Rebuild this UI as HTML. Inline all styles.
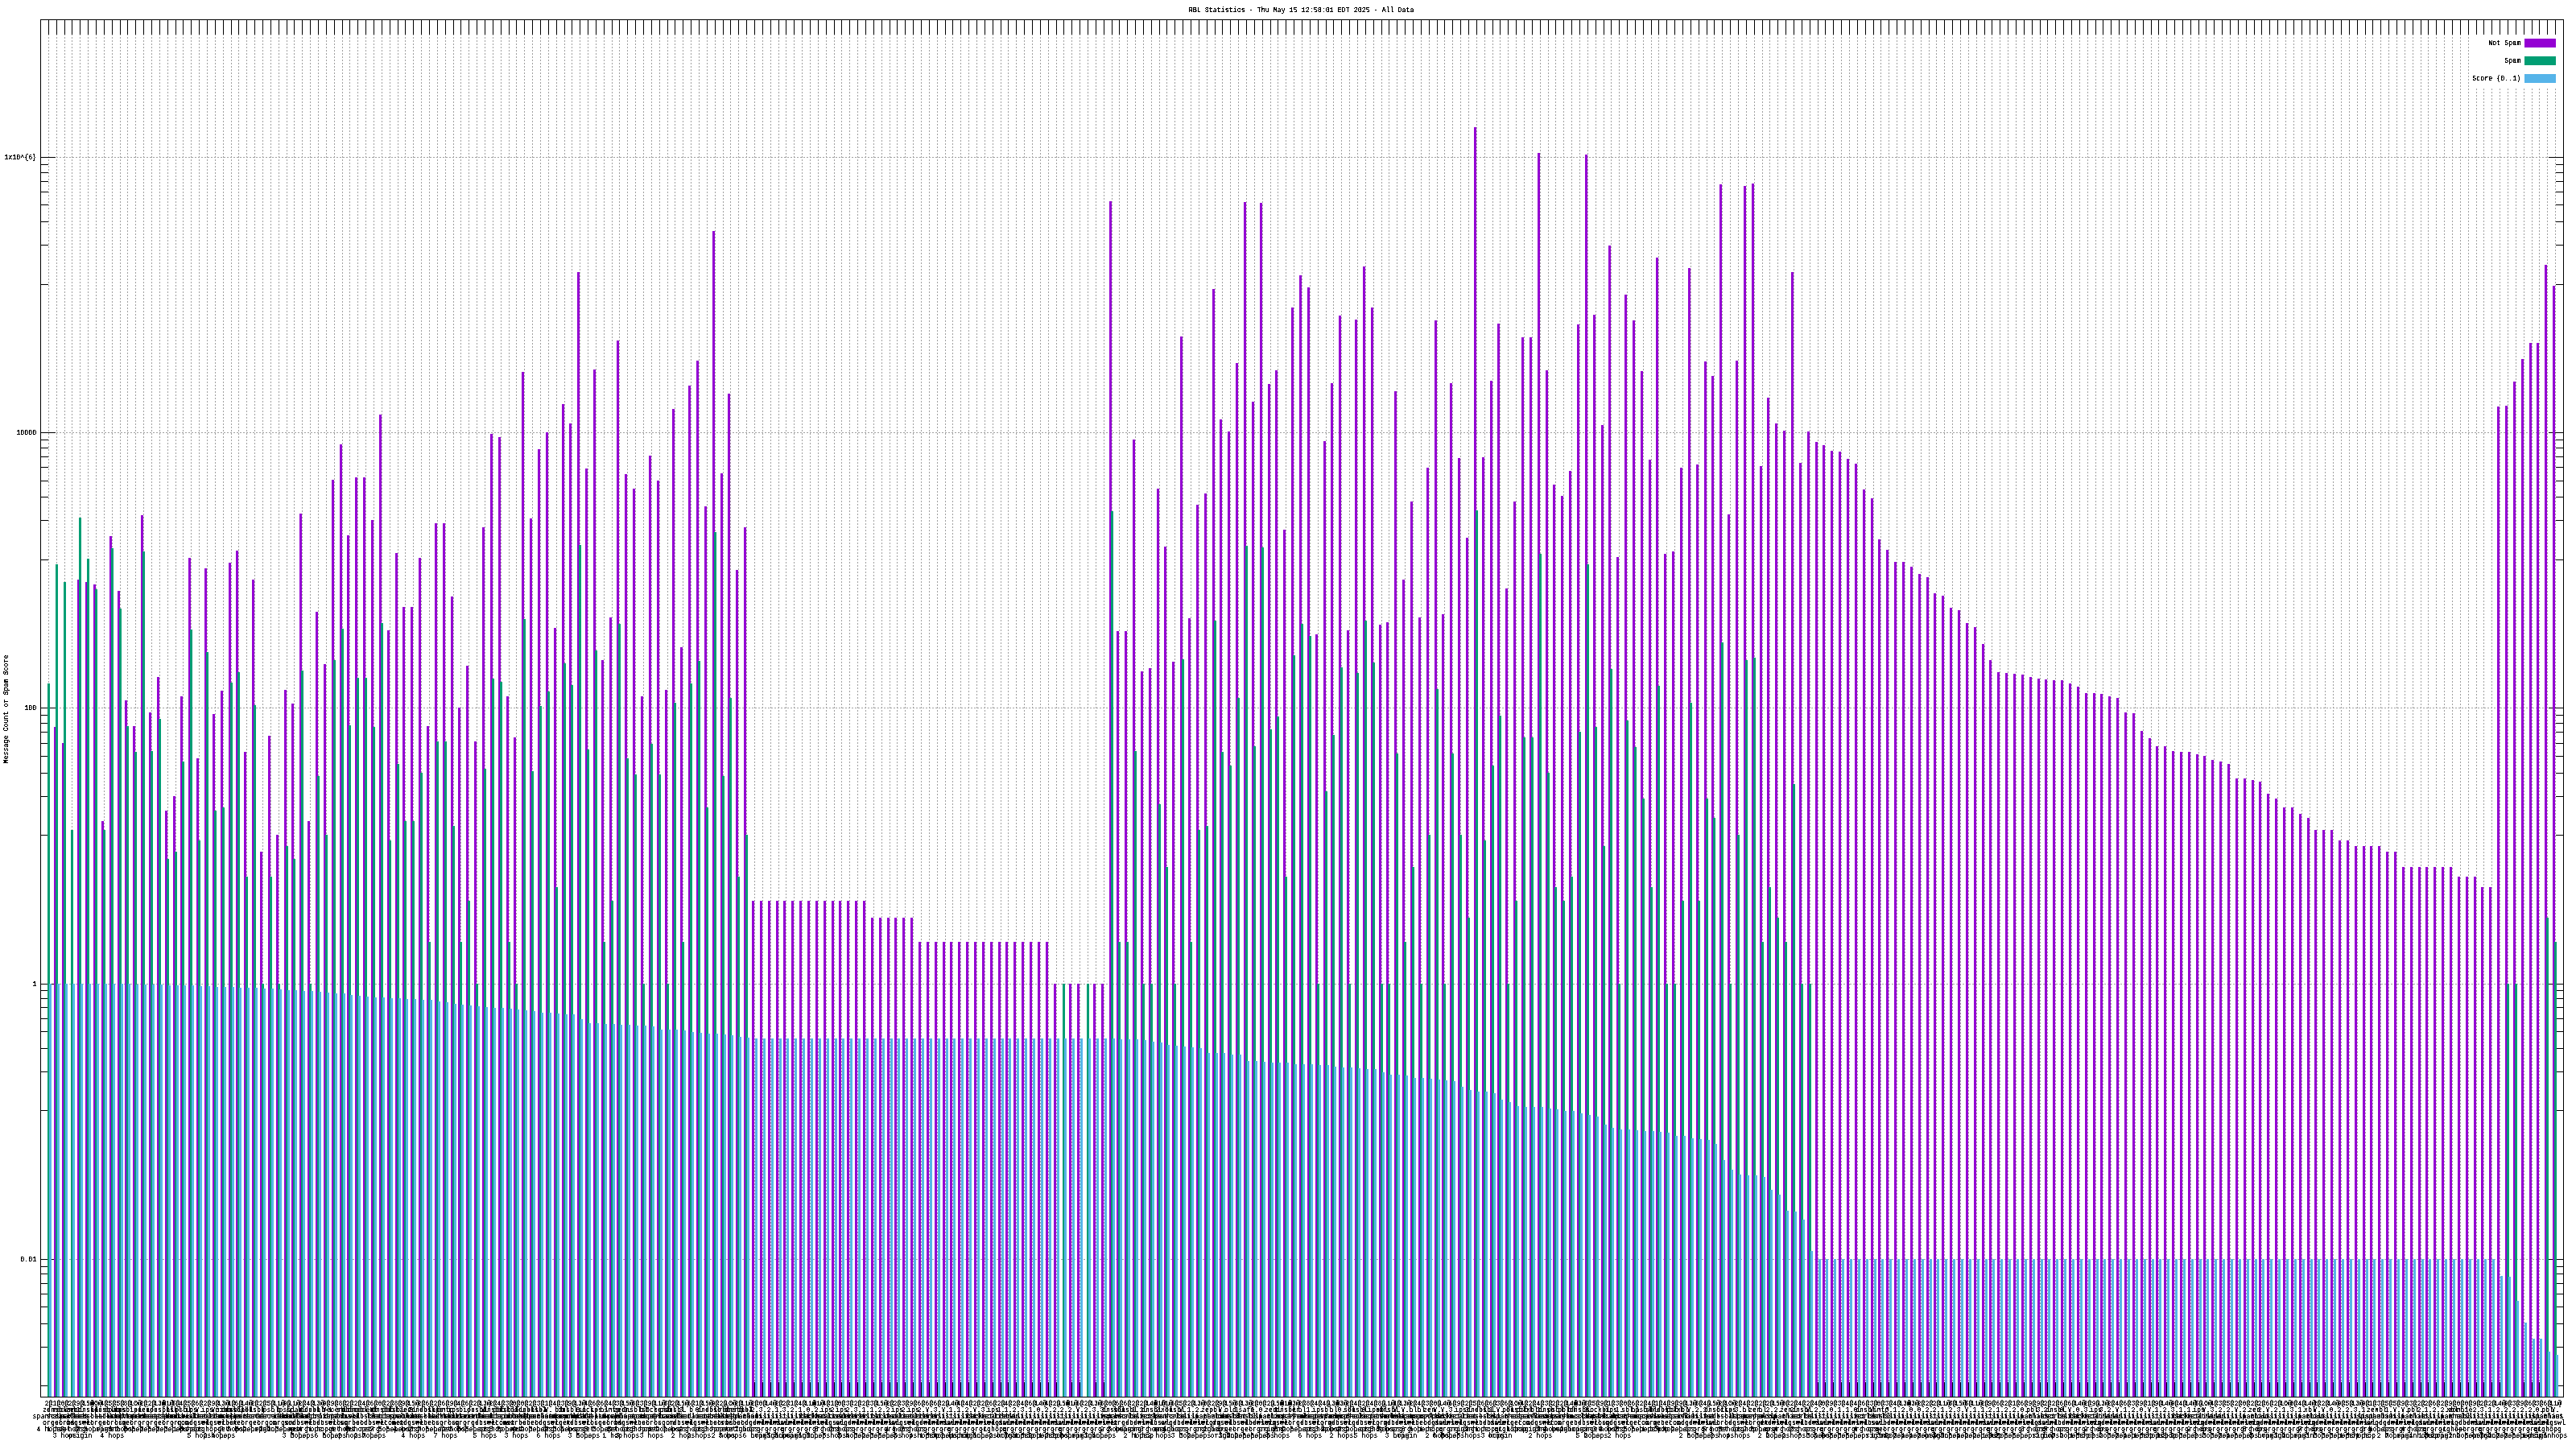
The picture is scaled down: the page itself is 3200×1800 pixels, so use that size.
<!DOCTYPE html><html><head><meta charset="utf-8"><title>RBL Statistics</title><style>html,body{margin:0;padding:0;background:#fff}svg{display:block}text{font-family:"Liberation Mono",monospace;font-size:8.332px;fill:#000}</style></head><body>
<svg width="3200" height="1800" viewBox="0 0 3200 1800" shape-rendering="crispEdges">
<rect x="0" y="0" width="3200" height="1800" fill="#fff"/>
<path d="M60.5 26V1735M70.5 26V1735M80.5 26V1735M89.5 26V1735M99.5 26V1735M109.5 26V1735M119.5 26V1735M129.5 26V1735M139.5 26V1735M149.5 26V1735M158.5 26V1735M168.5 26V1735M178.5 26V1735M188.5 26V1735M198.5 26V1735M208.5 26V1735M218.5 26V1735M227.5 26V1735M237.5 26V1735M247.5 26V1735M257.5 26V1735M267.5 26V1735M277.5 26V1735M287.5 26V1735M296.5 26V1735M306.5 26V1735M316.5 26V1735M326.5 26V1735M336.5 26V1735M346.5 26V1735M356.5 26V1735M365.5 26V1735M375.5 26V1735M385.5 26V1735M395.5 26V1735M405.5 26V1735M415.5 26V1735M425.5 26V1735M434.5 26V1735M444.5 26V1735M454.5 26V1735M464.5 26V1735M474.5 26V1735M484.5 26V1735M494.5 26V1735M503.5 26V1735M513.5 26V1735M523.5 26V1735M533.5 26V1735M543.5 26V1735M553.5 26V1735M563.5 26V1735M572.5 26V1735M582.5 26V1735M592.5 26V1735M602.5 26V1735M612.5 26V1735M622.5 26V1735M632.5 26V1735M641.5 26V1735M651.5 26V1735M661.5 26V1735M671.5 26V1735M681.5 26V1735M691.5 26V1735M701.5 26V1735M710.5 26V1735M720.5 26V1735M730.5 26V1735M740.5 26V1735M750.5 26V1735M760.5 26V1735M769.5 26V1735M779.5 26V1735M789.5 26V1735M799.5 26V1735M809.5 26V1735M819.5 26V1735M829.5 26V1735M838.5 26V1735M848.5 26V1735M858.5 26V1735M868.5 26V1735M878.5 26V1735M888.5 26V1735M898.5 26V1735M907.5 26V1735M917.5 26V1735M927.5 26V1735M937.5 26V1735M947.5 26V1735M957.5 26V1735M967.5 26V1735M976.5 26V1735M986.5 26V1735M996.5 26V1735M1006.5 26V1735M1016.5 26V1735M1026.5 26V1735M1036.5 26V1735M1045.5 26V1735M1055.5 26V1735M1065.5 26V1735M1075.5 26V1735M1085.5 26V1735M1095.5 26V1735M1105.5 26V1735M1114.5 26V1735M1124.5 26V1735M1134.5 26V1735M1144.5 26V1735M1154.5 26V1735M1164.5 26V1735M1174.5 26V1735M1183.5 26V1735M1193.5 26V1735M1203.5 26V1735M1213.5 26V1735M1223.5 26V1735M1233.5 26V1735M1243.5 26V1735M1252.5 26V1735M1262.5 26V1735M1272.5 26V1735M1282.5 26V1735M1292.5 26V1735M1302.5 26V1735M1312.5 26V1735M1321.5 26V1735M1331.5 26V1735M1341.5 26V1735M1351.5 26V1735M1361.5 26V1735M1371.5 26V1735M1381.5 26V1735M1390.5 26V1735M1400.5 26V1735M1410.5 26V1735M1420.5 26V1735M1430.5 26V1735M1440.5 26V1735M1449.5 26V1735M1459.5 26V1735M1469.5 26V1735M1479.5 26V1735M1489.5 26V1735M1499.5 26V1735M1509.5 26V1735M1518.5 26V1735M1528.5 26V1735M1538.5 26V1735M1548.5 26V1735M1558.5 26V1735M1568.5 26V1735M1578.5 26V1735M1587.5 26V1735M1597.5 26V1735M1607.5 26V1735M1617.5 26V1735M1627.5 26V1735M1637.5 26V1735M1647.5 26V1735M1656.5 26V1735M1666.5 26V1735M1676.5 26V1735M1686.5 26V1735M1696.5 26V1735M1706.5 26V1735M1716.5 26V1735M1725.5 26V1735M1735.5 26V1735M1745.5 26V1735M1755.5 26V1735M1765.5 26V1735M1775.5 26V1735M1785.5 26V1735M1794.5 26V1735M1804.5 26V1735M1814.5 26V1735M1824.5 26V1735M1834.5 26V1735M1844.5 26V1735M1854.5 26V1735M1863.5 26V1735M1873.5 26V1735M1883.5 26V1735M1893.5 26V1735M1903.5 26V1735M1913.5 26V1735M1923.5 26V1735M1932.5 26V1735M1942.5 26V1735M1952.5 26V1735M1962.5 26V1735M1972.5 26V1735M1982.5 26V1735M1992.5 26V1735M2001.5 26V1735M2011.5 26V1735M2021.5 26V1735M2031.5 26V1735M2041.5 26V1735M2051.5 26V1735M2060.5 26V1735M2070.5 26V1735M2080.5 26V1735M2090.5 26V1735M2100.5 26V1735M2110.5 26V1735M2120.5 26V1735M2129.5 26V1735M2139.5 26V1735M2149.5 26V1735M2159.5 26V1735M2169.5 26V1735M2179.5 26V1735M2189.5 26V1735M2198.5 26V1735M2208.5 26V1735M2218.5 26V1735M2228.5 26V1735M2238.5 26V1735M2248.5 26V1735M2258.5 26V1735M2267.5 26V1735M2277.5 26V1735M2287.5 26V1735M2297.5 26V1735M2307.5 26V1735M2317.5 26V1735M2327.5 26V1735M2336.5 26V1735M2346.5 26V1735M2356.5 26V1735M2366.5 26V1735M2376.5 26V1735M2386.5 26V1735M2396.5 26V1735M2405.5 26V1735M2415.5 26V1735M2425.5 26V1735M2435.5 26V1735M2445.5 26V1735M2455.5 26V1735M2465.5 26V1735M2474.5 26V1735M2484.5 26V1735M2494.5 26V1735M2504.5 26V1735M2514.5 26V1735M2524.5 26V1735M2534.5 26V1735M2543.5 26V1735M2553.5 26V1735M2563.5 26V1735M2573.5 26V1735M2583.5 26V1735M2593.5 26V1735M2603.5 26V1735M2612.5 26V1735M2622.5 26V1735M2632.5 26V1735M2642.5 26V1735M2652.5 26V1735M2662.5 26V1735M2672.5 26V1735M2681.5 26V1735M2691.5 26V1735M2701.5 26V1735M2711.5 26V1735M2721.5 26V1735M2731.5 26V1735M2740.5 26V1735M2750.5 26V1735M2760.5 26V1735M2770.5 26V1735M2780.5 26V1735M2790.5 26V1735M2800.5 26V1735M2809.5 26V1735M2819.5 26V1735M2829.5 26V1735M2839.5 26V1735M2849.5 26V1735M2859.5 26V1735M2869.5 26V1735M2878.5 26V1735M2888.5 26V1735M2898.5 26V1735M2908.5 26V1735M2918.5 26V1735M2928.5 26V1735M2938.5 26V1735M2947.5 26V1735M2957.5 26V1735M2967.5 26V1735M2977.5 26V1735M2987.5 26V1735M2997.5 26V1735M3007.5 26V1735M3016.5 26V1735M3026.5 26V1735M3036.5 26V1735M3046.5 26V1735M3056.5 26V1735M3066.5 26V1735M3076.5 26V1735M3085.5 26V1735M3095.5 26V1735M3105.5 26V1735M3115.5 26V1735M3125.5 26V1735M3135.5 26V1735M3145.5 26V1735M3154.5 26V1735M3164.5 26V1735M3174.5 26V1735" stroke="#a0a0a0" stroke-width="1" stroke-dasharray="2 2" fill="none"/>
<path d="M50 1564.5H3184M50 1222.5H3184M50 879.5H3184M50 537.5H3184M50 195.5H3184" stroke="#a0a0a0" stroke-width="1" stroke-dasharray="2 2" fill="none"/>
<rect x="3068" y="43" width="112" height="66" fill="#fff"/>
<path d="M60.5 24v19M60.5 1735v-18M70.5 24v19M70.5 1735v-18M80.5 24v19M80.5 1735v-18M89.5 24v19M89.5 1735v-18M99.5 24v19M99.5 1735v-18M109.5 24v19M109.5 1735v-18M119.5 24v19M119.5 1735v-18M129.5 24v19M129.5 1735v-18M139.5 24v19M139.5 1735v-18M149.5 24v19M149.5 1735v-18M158.5 24v19M158.5 1735v-18M168.5 24v19M168.5 1735v-18M178.5 24v19M178.5 1735v-18M188.5 24v19M188.5 1735v-18M198.5 24v19M198.5 1735v-18M208.5 24v19M208.5 1735v-18M218.5 24v19M218.5 1735v-18M227.5 24v19M227.5 1735v-18M237.5 24v19M237.5 1735v-18M247.5 24v19M247.5 1735v-18M257.5 24v19M257.5 1735v-18M267.5 24v19M267.5 1735v-18M277.5 24v19M277.5 1735v-18M287.5 24v19M287.5 1735v-18M296.5 24v19M296.5 1735v-18M306.5 24v19M306.5 1735v-18M316.5 24v19M316.5 1735v-18M326.5 24v19M326.5 1735v-18M336.5 24v19M336.5 1735v-18M346.5 24v19M346.5 1735v-18M356.5 24v19M356.5 1735v-18M365.5 24v19M365.5 1735v-18M375.5 24v19M375.5 1735v-18M385.5 24v19M385.5 1735v-18M395.5 24v19M395.5 1735v-18M405.5 24v19M405.5 1735v-18M415.5 24v19M415.5 1735v-18M425.5 24v19M425.5 1735v-18M434.5 24v19M434.5 1735v-18M444.5 24v19M444.5 1735v-18M454.5 24v19M454.5 1735v-18M464.5 24v19M464.5 1735v-18M474.5 24v19M474.5 1735v-18M484.5 24v19M484.5 1735v-18M494.5 24v19M494.5 1735v-18M503.5 24v19M503.5 1735v-18M513.5 24v19M513.5 1735v-18M523.5 24v19M523.5 1735v-18M533.5 24v19M533.5 1735v-18M543.5 24v19M543.5 1735v-18M553.5 24v19M553.5 1735v-18M563.5 24v19M563.5 1735v-18M572.5 24v19M572.5 1735v-18M582.5 24v19M582.5 1735v-18M592.5 24v19M592.5 1735v-18M602.5 24v19M602.5 1735v-18M612.5 24v19M612.5 1735v-18M622.5 24v19M622.5 1735v-18M632.5 24v19M632.5 1735v-18M641.5 24v19M641.5 1735v-18M651.5 24v19M651.5 1735v-18M661.5 24v19M661.5 1735v-18M671.5 24v19M671.5 1735v-18M681.5 24v19M681.5 1735v-18M691.5 24v19M691.5 1735v-18M701.5 24v19M701.5 1735v-18M710.5 24v19M710.5 1735v-18M720.5 24v19M720.5 1735v-18M730.5 24v19M730.5 1735v-18M740.5 24v19M740.5 1735v-18M750.5 24v19M750.5 1735v-18M760.5 24v19M760.5 1735v-18M769.5 24v19M769.5 1735v-18M779.5 24v19M779.5 1735v-18M789.5 24v19M789.5 1735v-18M799.5 24v19M799.5 1735v-18M809.5 24v19M809.5 1735v-18M819.5 24v19M819.5 1735v-18M829.5 24v19M829.5 1735v-18M838.5 24v19M838.5 1735v-18M848.5 24v19M848.5 1735v-18M858.5 24v19M858.5 1735v-18M868.5 24v19M868.5 1735v-18M878.5 24v19M878.5 1735v-18M888.5 24v19M888.5 1735v-18M898.5 24v19M898.5 1735v-18M907.5 24v19M907.5 1735v-18M917.5 24v19M917.5 1735v-18M927.5 24v19M927.5 1735v-18M937.5 24v19M937.5 1735v-18M947.5 24v19M947.5 1735v-18M957.5 24v19M957.5 1735v-18M967.5 24v19M967.5 1735v-18M976.5 24v19M976.5 1735v-18M986.5 24v19M986.5 1735v-18M996.5 24v19M996.5 1735v-18M1006.5 24v19M1006.5 1735v-18M1016.5 24v19M1016.5 1735v-18M1026.5 24v19M1026.5 1735v-18M1036.5 24v19M1036.5 1735v-18M1045.5 24v19M1045.5 1735v-18M1055.5 24v19M1055.5 1735v-18M1065.5 24v19M1065.5 1735v-18M1075.5 24v19M1075.5 1735v-18M1085.5 24v19M1085.5 1735v-18M1095.5 24v19M1095.5 1735v-18M1105.5 24v19M1105.5 1735v-18M1114.5 24v19M1114.5 1735v-18M1124.5 24v19M1124.5 1735v-18M1134.5 24v19M1134.5 1735v-18M1144.5 24v19M1144.5 1735v-18M1154.5 24v19M1154.5 1735v-18M1164.5 24v19M1164.5 1735v-18M1174.5 24v19M1174.5 1735v-18M1183.5 24v19M1183.5 1735v-18M1193.5 24v19M1193.5 1735v-18M1203.5 24v19M1203.5 1735v-18M1213.5 24v19M1213.5 1735v-18M1223.5 24v19M1223.5 1735v-18M1233.5 24v19M1233.5 1735v-18M1243.5 24v19M1243.5 1735v-18M1252.5 24v19M1252.5 1735v-18M1262.5 24v19M1262.5 1735v-18M1272.5 24v19M1272.5 1735v-18M1282.5 24v19M1282.5 1735v-18M1292.5 24v19M1292.5 1735v-18M1302.5 24v19M1302.5 1735v-18M1312.5 24v19M1312.5 1735v-18M1321.5 24v19M1321.5 1735v-18M1331.5 24v19M1331.5 1735v-18M1341.5 24v19M1341.5 1735v-18M1351.5 24v19M1351.5 1735v-18M1361.5 24v19M1361.5 1735v-18M1371.5 24v19M1371.5 1735v-18M1381.5 24v19M1381.5 1735v-18M1390.5 24v19M1390.5 1735v-18M1400.5 24v19M1400.5 1735v-18M1410.5 24v19M1410.5 1735v-18M1420.5 24v19M1420.5 1735v-18M1430.5 24v19M1430.5 1735v-18M1440.5 24v19M1440.5 1735v-18M1449.5 24v19M1449.5 1735v-18M1459.5 24v19M1459.5 1735v-18M1469.5 24v19M1469.5 1735v-18M1479.5 24v19M1479.5 1735v-18M1489.5 24v19M1489.5 1735v-18M1499.5 24v19M1499.5 1735v-18M1509.5 24v19M1509.5 1735v-18M1518.5 24v19M1518.5 1735v-18M1528.5 24v19M1528.5 1735v-18M1538.5 24v19M1538.5 1735v-18M1548.5 24v19M1548.5 1735v-18M1558.5 24v19M1558.5 1735v-18M1568.5 24v19M1568.5 1735v-18M1578.5 24v19M1578.5 1735v-18M1587.5 24v19M1587.5 1735v-18M1597.5 24v19M1597.5 1735v-18M1607.5 24v19M1607.5 1735v-18M1617.5 24v19M1617.5 1735v-18M1627.5 24v19M1627.5 1735v-18M1637.5 24v19M1637.5 1735v-18M1647.5 24v19M1647.5 1735v-18M1656.5 24v19M1656.5 1735v-18M1666.5 24v19M1666.5 1735v-18M1676.5 24v19M1676.5 1735v-18M1686.5 24v19M1686.5 1735v-18M1696.5 24v19M1696.5 1735v-18M1706.5 24v19M1706.5 1735v-18M1716.5 24v19M1716.5 1735v-18M1725.5 24v19M1725.5 1735v-18M1735.5 24v19M1735.5 1735v-18M1745.5 24v19M1745.5 1735v-18M1755.5 24v19M1755.5 1735v-18M1765.5 24v19M1765.5 1735v-18M1775.5 24v19M1775.5 1735v-18M1785.5 24v19M1785.5 1735v-18M1794.5 24v19M1794.5 1735v-18M1804.5 24v19M1804.5 1735v-18M1814.5 24v19M1814.5 1735v-18M1824.5 24v19M1824.5 1735v-18M1834.5 24v19M1834.5 1735v-18M1844.5 24v19M1844.5 1735v-18M1854.5 24v19M1854.5 1735v-18M1863.5 24v19M1863.5 1735v-18M1873.5 24v19M1873.5 1735v-18M1883.5 24v19M1883.5 1735v-18M1893.5 24v19M1893.5 1735v-18M1903.5 24v19M1903.5 1735v-18M1913.5 24v19M1913.5 1735v-18M1923.5 24v19M1923.5 1735v-18M1932.5 24v19M1932.5 1735v-18M1942.5 24v19M1942.5 1735v-18M1952.5 24v19M1952.5 1735v-18M1962.5 24v19M1962.5 1735v-18M1972.5 24v19M1972.5 1735v-18M1982.5 24v19M1982.5 1735v-18M1992.5 24v19M1992.5 1735v-18M2001.5 24v19M2001.5 1735v-18M2011.5 24v19M2011.5 1735v-18M2021.5 24v19M2021.5 1735v-18M2031.5 24v19M2031.5 1735v-18M2041.5 24v19M2041.5 1735v-18M2051.5 24v19M2051.5 1735v-18M2060.5 24v19M2060.5 1735v-18M2070.5 24v19M2070.5 1735v-18M2080.5 24v19M2080.5 1735v-18M2090.5 24v19M2090.5 1735v-18M2100.5 24v19M2100.5 1735v-18M2110.5 24v19M2110.5 1735v-18M2120.5 24v19M2120.5 1735v-18M2129.5 24v19M2129.5 1735v-18M2139.5 24v19M2139.5 1735v-18M2149.5 24v19M2149.5 1735v-18M2159.5 24v19M2159.5 1735v-18M2169.5 24v19M2169.5 1735v-18M2179.5 24v19M2179.5 1735v-18M2189.5 24v19M2189.5 1735v-18M2198.5 24v19M2198.5 1735v-18M2208.5 24v19M2208.5 1735v-18M2218.5 24v19M2218.5 1735v-18M2228.5 24v19M2228.5 1735v-18M2238.5 24v19M2238.5 1735v-18M2248.5 24v19M2248.5 1735v-18M2258.5 24v19M2258.5 1735v-18M2267.5 24v19M2267.5 1735v-18M2277.5 24v19M2277.5 1735v-18M2287.5 24v19M2287.5 1735v-18M2297.5 24v19M2297.5 1735v-18M2307.5 24v19M2307.5 1735v-18M2317.5 24v19M2317.5 1735v-18M2327.5 24v19M2327.5 1735v-18M2336.5 24v19M2336.5 1735v-18M2346.5 24v19M2346.5 1735v-18M2356.5 24v19M2356.5 1735v-18M2366.5 24v19M2366.5 1735v-18M2376.5 24v19M2376.5 1735v-18M2386.5 24v19M2386.5 1735v-18M2396.5 24v19M2396.5 1735v-18M2405.5 24v19M2405.5 1735v-18M2415.5 24v19M2415.5 1735v-18M2425.5 24v19M2425.5 1735v-18M2435.5 24v19M2435.5 1735v-18M2445.5 24v19M2445.5 1735v-18M2455.5 24v19M2455.5 1735v-18M2465.5 24v19M2465.5 1735v-18M2474.5 24v19M2474.5 1735v-18M2484.5 24v19M2484.5 1735v-18M2494.5 24v19M2494.5 1735v-18M2504.5 24v19M2504.5 1735v-18M2514.5 24v19M2514.5 1735v-18M2524.5 24v19M2524.5 1735v-18M2534.5 24v19M2534.5 1735v-18M2543.5 24v19M2543.5 1735v-18M2553.5 24v19M2553.5 1735v-18M2563.5 24v19M2563.5 1735v-18M2573.5 24v19M2573.5 1735v-18M2583.5 24v19M2583.5 1735v-18M2593.5 24v19M2593.5 1735v-18M2603.5 24v19M2603.5 1735v-18M2612.5 24v19M2612.5 1735v-18M2622.5 24v19M2622.5 1735v-18M2632.5 24v19M2632.5 1735v-18M2642.5 24v19M2642.5 1735v-18M2652.5 24v19M2652.5 1735v-18M2662.5 24v19M2662.5 1735v-18M2672.5 24v19M2672.5 1735v-18M2681.5 24v19M2681.5 1735v-18M2691.5 24v19M2691.5 1735v-18M2701.5 24v19M2701.5 1735v-18M2711.5 24v19M2711.5 1735v-18M2721.5 24v19M2721.5 1735v-18M2731.5 24v19M2731.5 1735v-18M2740.5 24v19M2740.5 1735v-18M2750.5 24v19M2750.5 1735v-18M2760.5 24v19M2760.5 1735v-18M2770.5 24v19M2770.5 1735v-18M2780.5 24v19M2780.5 1735v-18M2790.5 24v19M2790.5 1735v-18M2800.5 24v19M2800.5 1735v-18M2809.5 24v19M2809.5 1735v-18M2819.5 24v19M2819.5 1735v-18M2829.5 24v19M2829.5 1735v-18M2839.5 24v19M2839.5 1735v-18M2849.5 24v19M2849.5 1735v-18M2859.5 24v19M2859.5 1735v-18M2869.5 24v19M2869.5 1735v-18M2878.5 24v19M2878.5 1735v-18M2888.5 24v19M2888.5 1735v-18M2898.5 24v19M2898.5 1735v-18M2908.5 24v19M2908.5 1735v-18M2918.5 24v19M2918.5 1735v-18M2928.5 24v19M2928.5 1735v-18M2938.5 24v19M2938.5 1735v-18M2947.5 24v19M2947.5 1735v-18M2957.5 24v19M2957.5 1735v-18M2967.5 24v19M2967.5 1735v-18M2977.5 24v19M2977.5 1735v-18M2987.5 24v19M2987.5 1735v-18M2997.5 24v19M2997.5 1735v-18M3007.5 24v19M3007.5 1735v-18M3016.5 24v19M3016.5 1735v-18M3026.5 24v19M3026.5 1735v-18M3036.5 24v19M3036.5 1735v-18M3046.5 24v19M3046.5 1735v-18M3056.5 24v19M3056.5 1735v-18M3066.5 24v19M3066.5 1735v-18M3076.5 24v19M3076.5 1735v-18M3085.5 24v19M3085.5 1735v-18M3095.5 24v19M3095.5 1735v-18M3105.5 24v19M3105.5 1735v-18M3115.5 24v19M3115.5 1735v-18M3125.5 24v19M3125.5 1735v-18M3135.5 24v19M3135.5 1735v-18M3145.5 24v19M3145.5 1735v-18M3154.5 24v19M3154.5 1735v-18M3164.5 24v19M3164.5 1735v-18M3174.5 24v19M3174.5 1735v-18M50 1564.5h19M3185 1564.5h-19M50 1222.5h19M3185 1222.5h-19M50 879.5h19M3185 879.5h-19M50 537.5h19M3185 537.5h-19M50 195.5h19M3185 195.5h-19M50 1721.5h10M3185 1721.5h-10M50 1673.5h10M3185 1673.5h-10M50 1644.5h10M3185 1644.5h-10M50 1623.5h10M3185 1623.5h-10M50 1607.5h10M3185 1607.5h-10M50 1594.5h10M3185 1594.5h-10M50 1582.5h10M3185 1582.5h-10M50 1573.5h10M3185 1573.5h-10M50 1379.5h10M3185 1379.5h-10M50 1331.5h10M3185 1331.5h-10M50 1302.5h10M3185 1302.5h-10M50 1281.5h10M3185 1281.5h-10M50 1265.5h10M3185 1265.5h-10M50 1251.5h10M3185 1251.5h-10M50 1240.5h10M3185 1240.5h-10M50 1230.5h10M3185 1230.5h-10M50 1037.5h10M3185 1037.5h-10M50 989.5h10M3185 989.5h-10M50 960.5h10M3185 960.5h-10M50 939.5h10M3185 939.5h-10M50 923.5h10M3185 923.5h-10M50 909.5h10M3185 909.5h-10M50 898.5h10M3185 898.5h-10M50 888.5h10M3185 888.5h-10M50 695.5h10M3185 695.5h-10M50 646.5h10M3185 646.5h-10M50 617.5h10M3185 617.5h-10M50 597.5h10M3185 597.5h-10M50 580.5h10M3185 580.5h-10M50 567.5h10M3185 567.5h-10M50 556.5h10M3185 556.5h-10M50 546.5h10M3185 546.5h-10M50 353.5h10M3185 353.5h-10M50 304.5h10M3185 304.5h-10M50 275.5h10M3185 275.5h-10M50 254.5h10M3185 254.5h-10M50 238.5h10M3185 238.5h-10M50 225.5h10M3185 225.5h-10M50 214.5h10M3185 214.5h-10M50 204.5h10M3185 204.5h-10" stroke="#000" stroke-width="1" fill="none"/>
<path d="M67 903h3V1735h-3zM77 923h3V1735h-3zM96 720h3V1735h-3zM106 723h3V1735h-3zM116 726h3V1735h-3zM126 1020h3V1735h-3zM136 666h3V1735h-3zM146 734h3V1735h-3zM155 870h3V1735h-3zM165 902h3V1735h-3zM175 640h3V1735h-3zM185 885h3V1735h-3zM195 841h3V1735h-3zM205 1007h3V1735h-3zM215 989h3V1735h-3zM224 865h3V1735h-3zM234 693h3V1735h-3zM244 942h3V1735h-3zM254 706h3V1735h-3zM264 887h3V1735h-3zM274 858h3V1735h-3zM284 699h3V1735h-3zM293 684h3V1735h-3zM303 934h3V1735h-3zM313 720h3V1735h-3zM323 1058h3V1735h-3zM333 914h3V1735h-3zM343 1037h3V1735h-3zM353 857h3V1735h-3zM362 874h3V1735h-3zM372 638h3V1735h-3zM382 1020h3V1735h-3zM392 760h3V1735h-3zM402 825h3V1735h-3zM412 596h3V1735h-3zM422 552h3V1735h-3zM431 665h3V1735h-3zM441 593h3V1735h-3zM451 593h3V1735h-3zM461 646h3V1735h-3zM471 515h3V1735h-3zM481 783h3V1735h-3zM491 687h3V1735h-3zM500 754h3V1735h-3zM510 754h3V1735h-3zM520 693h3V1735h-3zM530 902h3V1735h-3zM540 650h3V1735h-3zM550 650h3V1735h-3zM560 741h3V1735h-3zM569 879h3V1735h-3zM579 827h3V1735h-3zM589 921h3V1735h-3zM599 655h3V1735h-3zM609 539h3V1735h-3zM619 543h3V1735h-3zM629 865h3V1735h-3zM638 916h3V1735h-3zM648 462h3V1735h-3zM658 644h3V1735h-3zM668 558h3V1735h-3zM678 537h3V1735h-3zM688 780h3V1735h-3zM698 502h3V1735h-3zM707 526h3V1735h-3zM717 338h3V1735h-3zM727 582h3V1735h-3zM737 459h3V1735h-3zM747 820h3V1735h-3zM757 767h3V1735h-3zM766 423h3V1735h-3zM776 589h3V1735h-3zM786 607h3V1735h-3zM796 865h3V1735h-3zM806 566h3V1735h-3zM816 597h3V1735h-3zM826 857h3V1735h-3zM835 508h3V1735h-3zM845 804h3V1735h-3zM855 479h3V1735h-3zM865 448h3V1735h-3zM875 629h3V1735h-3zM885 287h3V1735h-3zM895 588h3V1735h-3zM904 489h3V1735h-3zM914 708h3V1735h-3zM924 655h3V1735h-3zM934 1119h3V1735h-3zM944 1119h3V1735h-3zM954 1119h3V1735h-3zM964 1119h3V1735h-3zM973 1119h3V1735h-3zM983 1119h3V1735h-3zM993 1119h3V1735h-3zM1003 1119h3V1735h-3zM1013 1119h3V1735h-3zM1023 1119h3V1735h-3zM1033 1119h3V1735h-3zM1042 1119h3V1735h-3zM1052 1119h3V1735h-3zM1062 1119h3V1735h-3zM1072 1119h3V1735h-3zM1082 1140h3V1735h-3zM1092 1140h3V1735h-3zM1102 1140h3V1735h-3zM1111 1140h3V1735h-3zM1121 1140h3V1735h-3zM1131 1140h3V1735h-3zM1141 1170h3V1735h-3zM1151 1170h3V1735h-3zM1161 1170h3V1735h-3zM1171 1170h3V1735h-3zM1180 1170h3V1735h-3zM1190 1170h3V1735h-3zM1200 1170h3V1735h-3zM1210 1170h3V1735h-3zM1220 1170h3V1735h-3zM1230 1170h3V1735h-3zM1240 1170h3V1735h-3zM1249 1170h3V1735h-3zM1259 1170h3V1735h-3zM1269 1170h3V1735h-3zM1279 1170h3V1735h-3zM1289 1170h3V1735h-3zM1299 1170h3V1735h-3zM1309 1222h3V1735h-3zM1328 1222h3V1735h-3zM1338 1222h3V1735h-3zM1358 1222h3V1735h-3zM1368 1222h3V1735h-3zM1378 250h3V1735h-3zM1387 784h3V1735h-3zM1397 784h3V1735h-3zM1407 546h3V1735h-3zM1417 834h3V1735h-3zM1427 830h3V1735h-3zM1437 607h3V1735h-3zM1446 679h3V1735h-3zM1456 822h3V1735h-3zM1466 418h3V1735h-3zM1476 768h3V1735h-3zM1486 627h3V1735h-3zM1496 613h3V1735h-3zM1506 359h3V1735h-3zM1515 521h3V1735h-3zM1525 536h3V1735h-3zM1535 451h3V1735h-3zM1545 251h3V1735h-3zM1555 499h3V1735h-3zM1565 252h3V1735h-3zM1575 477h3V1735h-3zM1584 460h3V1735h-3zM1594 658h3V1735h-3zM1604 382h3V1735h-3zM1614 342h3V1735h-3zM1624 357h3V1735h-3zM1634 788h3V1735h-3zM1644 548h3V1735h-3zM1653 476h3V1735h-3zM1663 392h3V1735h-3zM1673 783h3V1735h-3zM1683 397h3V1735h-3zM1693 331h3V1735h-3zM1703 382h3V1735h-3zM1713 776h3V1735h-3zM1722 773h3V1735h-3zM1732 486h3V1735h-3zM1742 720h3V1735h-3zM1752 623h3V1735h-3zM1762 767h3V1735h-3zM1772 581h3V1735h-3zM1782 398h3V1735h-3zM1791 763h3V1735h-3zM1801 476h3V1735h-3zM1811 569h3V1735h-3zM1821 668h3V1735h-3zM1831 158h3V1735h-3zM1841 568h3V1735h-3zM1851 473h3V1735h-3zM1860 402h3V1735h-3zM1870 731h3V1735h-3zM1880 623h3V1735h-3zM1890 419h3V1735h-3zM1900 419h3V1735h-3zM1910 190h3V1735h-3zM1920 460h3V1735h-3zM1929 602h3V1735h-3zM1939 616h3V1735h-3zM1949 585h3V1735h-3zM1959 403h3V1735h-3zM1969 192h3V1735h-3zM1979 391h3V1735h-3zM1989 528h3V1735h-3zM1998 305h3V1735h-3zM2008 692h3V1735h-3zM2018 366h3V1735h-3zM2028 398h3V1735h-3zM2038 461h3V1735h-3zM2048 571h3V1735h-3zM2057 320h3V1735h-3zM2067 688h3V1735h-3zM2077 685h3V1735h-3zM2087 581h3V1735h-3zM2097 333h3V1735h-3zM2107 577h3V1735h-3zM2117 449h3V1735h-3zM2126 467h3V1735h-3zM2136 229h3V1735h-3zM2146 639h3V1735h-3zM2156 448h3V1735h-3zM2166 231h3V1735h-3zM2176 228h3V1735h-3zM2186 579h3V1735h-3zM2195 494h3V1735h-3zM2205 526h3V1735h-3zM2215 535h3V1735h-3zM2225 338h3V1735h-3zM2235 575h3V1735h-3zM2245 536h3V1735h-3zM2255 549h3V1735h-3zM2264 553h3V1735h-3zM2274 560h3V1735h-3zM2284 561h3V1735h-3zM2294 570h3V1735h-3zM2304 576h3V1735h-3zM2314 608h3V1735h-3zM2324 619h3V1735h-3zM2333 670h3V1735h-3zM2343 683h3V1735h-3zM2353 698h3V1735h-3zM2363 698h3V1735h-3zM2373 704h3V1735h-3zM2383 713h3V1735h-3zM2393 717h3V1735h-3zM2402 737h3V1735h-3zM2412 740h3V1735h-3zM2422 755h3V1735h-3zM2432 758h3V1735h-3zM2442 774h3V1735h-3zM2452 779h3V1735h-3zM2462 800h3V1735h-3zM2471 820h3V1735h-3zM2481 835h3V1735h-3zM2491 836h3V1735h-3zM2501 837h3V1735h-3zM2511 838h3V1735h-3zM2521 841h3V1735h-3zM2531 843h3V1735h-3zM2540 844h3V1735h-3zM2550 845h3V1735h-3zM2560 845h3V1735h-3zM2570 849h3V1735h-3zM2580 853h3V1735h-3zM2590 861h3V1735h-3zM2600 861h3V1735h-3zM2609 862h3V1735h-3zM2619 865h3V1735h-3zM2629 867h3V1735h-3zM2639 885h3V1735h-3zM2649 886h3V1735h-3zM2659 908h3V1735h-3zM2669 917h3V1735h-3zM2678 927h3V1735h-3zM2688 927h3V1735h-3zM2698 933h3V1735h-3zM2708 934h3V1735h-3zM2718 934h3V1735h-3zM2728 937h3V1735h-3zM2737 939h3V1735h-3zM2747 944h3V1735h-3zM2757 946h3V1735h-3zM2767 949h3V1735h-3zM2777 967h3V1735h-3zM2787 967h3V1735h-3zM2797 969h3V1735h-3zM2806 971h3V1735h-3zM2816 986h3V1735h-3zM2826 992h3V1735h-3zM2836 1003h3V1735h-3zM2846 1003h3V1735h-3zM2856 1011h3V1735h-3zM2866 1016h3V1735h-3zM2875 1031h3V1735h-3zM2885 1031h3V1735h-3zM2895 1031h3V1735h-3zM2905 1044h3V1735h-3zM2915 1044h3V1735h-3zM2925 1051h3V1735h-3zM2935 1051h3V1735h-3zM2944 1051h3V1735h-3zM2954 1051h3V1735h-3zM2964 1058h3V1735h-3zM2974 1058h3V1735h-3zM2984 1077h3V1735h-3zM2994 1077h3V1735h-3zM3004 1077h3V1735h-3zM3013 1077h3V1735h-3zM3023 1077h3V1735h-3zM3033 1077h3V1735h-3zM3043 1077h3V1735h-3zM3053 1089h3V1735h-3zM3063 1089h3V1735h-3zM3073 1089h3V1735h-3zM3082 1102h3V1735h-3zM3092 1102h3V1735h-3zM3102 505h3V1735h-3zM3112 504h3V1735h-3zM3122 474h3V1735h-3zM3132 446h3V1735h-3zM3142 426h3V1735h-3zM3151 426h3V1735h-3zM3161 329h3V1735h-3zM3171 355h3V1735h-3z" fill="#9400d3"/>
<path d="M59 849h3V1735h-3zM69 701h3V1735h-3zM79 723h3V1735h-3zM88 1031h3V1735h-3zM98 643h3V1735h-3zM108 694h3V1735h-3zM118 732h3V1735h-3zM128 1031h3V1735h-3zM138 681h3V1735h-3zM148 756h3V1735h-3zM157 902h3V1735h-3zM167 934h3V1735h-3zM177 685h3V1735h-3zM187 933h3V1735h-3zM197 893h3V1735h-3zM207 1067h3V1735h-3zM217 1058h3V1735h-3zM226 946h3V1735h-3zM236 782h3V1735h-3zM246 1044h3V1735h-3zM256 810h3V1735h-3zM266 1007h3V1735h-3zM276 1003h3V1735h-3zM286 848h3V1735h-3zM295 835h3V1735h-3zM305 1089h3V1735h-3zM315 876h3V1735h-3zM325 1222h3V1735h-3zM335 1089h3V1735h-3zM345 1222h3V1735h-3zM355 1051h3V1735h-3zM364 1067h3V1735h-3zM374 833h3V1735h-3zM384 1222h3V1735h-3zM394 964h3V1735h-3zM404 1037h3V1735h-3zM414 820h3V1735h-3zM424 781h3V1735h-3zM433 901h3V1735h-3zM443 842h3V1735h-3zM453 842h3V1735h-3zM463 903h3V1735h-3zM473 774h3V1735h-3zM483 1044h3V1735h-3zM493 949h3V1735h-3zM502 1020h3V1735h-3zM512 1020h3V1735h-3zM522 960h3V1735h-3zM532 1170h3V1735h-3zM542 921h3V1735h-3zM552 921h3V1735h-3zM562 1026h3V1735h-3zM571 1170h3V1735h-3zM581 1119h3V1735h-3zM591 1222h3V1735h-3zM601 955h3V1735h-3zM611 843h3V1735h-3zM621 847h3V1735h-3zM631 1170h3V1735h-3zM640 1222h3V1735h-3zM650 769h3V1735h-3zM660 958h3V1735h-3zM670 877h3V1735h-3zM680 859h3V1735h-3zM690 1102h3V1735h-3zM700 824h3V1735h-3zM709 851h3V1735h-3zM719 677h3V1735h-3zM729 931h3V1735h-3zM739 808h3V1735h-3zM749 1170h3V1735h-3zM759 1119h3V1735h-3zM768 775h3V1735h-3zM778 942h3V1735h-3zM788 962h3V1735h-3zM798 1222h3V1735h-3zM808 924h3V1735h-3zM818 962h3V1735h-3zM828 1222h3V1735h-3zM837 873h3V1735h-3zM847 1170h3V1735h-3zM857 849h3V1735h-3zM867 821h3V1735h-3zM877 1003h3V1735h-3zM887 661h3V1735h-3zM897 964h3V1735h-3zM906 867h3V1735h-3zM916 1089h3V1735h-3zM926 1037h3V1735h-3zM1320 1222h3V1735h-3zM1350 1222h3V1735h-3zM1380 635h3V1735h-3zM1389 1170h3V1735h-3zM1399 1170h3V1735h-3zM1409 933h3V1735h-3zM1419 1222h3V1735h-3zM1429 1222h3V1735h-3zM1439 999h3V1735h-3zM1448 1077h3V1735h-3zM1458 1222h3V1735h-3zM1468 819h3V1735h-3zM1478 1170h3V1735h-3zM1488 1031h3V1735h-3zM1498 1026h3V1735h-3zM1508 771h3V1735h-3zM1517 934h3V1735h-3zM1527 951h3V1735h-3zM1537 867h3V1735h-3zM1547 678h3V1735h-3zM1557 927h3V1735h-3zM1567 680h3V1735h-3zM1577 906h3V1735h-3zM1586 890h3V1735h-3zM1596 1089h3V1735h-3zM1606 814h3V1735h-3zM1616 775h3V1735h-3zM1626 790h3V1735h-3zM1636 1222h3V1735h-3zM1646 983h3V1735h-3zM1655 913h3V1735h-3zM1665 829h3V1735h-3zM1675 1222h3V1735h-3zM1685 836h3V1735h-3zM1695 771h3V1735h-3zM1705 823h3V1735h-3zM1715 1222h3V1735h-3zM1724 1222h3V1735h-3zM1734 936h3V1735h-3zM1744 1170h3V1735h-3zM1754 1077h3V1735h-3zM1764 1222h3V1735h-3zM1774 1037h3V1735h-3zM1784 856h3V1735h-3zM1793 1222h3V1735h-3zM1803 936h3V1735h-3zM1813 1037h3V1735h-3zM1823 1140h3V1735h-3zM1833 634h3V1735h-3zM1843 1044h3V1735h-3zM1853 951h3V1735h-3zM1862 889h3V1735h-3zM1872 1222h3V1735h-3zM1882 1119h3V1735h-3zM1892 916h3V1735h-3zM1902 916h3V1735h-3zM1912 688h3V1735h-3zM1922 960h3V1735h-3zM1931 1102h3V1735h-3zM1941 1119h3V1735h-3zM1951 1089h3V1735h-3zM1961 909h3V1735h-3zM1971 701h3V1735h-3zM1981 903h3V1735h-3zM1991 1051h3V1735h-3zM2000 831h3V1735h-3zM2010 1222h3V1735h-3zM2020 895h3V1735h-3zM2030 928h3V1735h-3zM2040 992h3V1735h-3zM2050 1102h3V1735h-3zM2059 852h3V1735h-3zM2069 1222h3V1735h-3zM2079 1222h3V1735h-3zM2089 1119h3V1735h-3zM2099 873h3V1735h-3zM2109 1119h3V1735h-3zM2119 992h3V1735h-3zM2128 1016h3V1735h-3zM2138 798h3V1735h-3zM2148 1222h3V1735h-3zM2158 1037h3V1735h-3zM2168 820h3V1735h-3zM2178 817h3V1735h-3zM2188 1170h3V1735h-3zM2197 1102h3V1735h-3zM2207 1140h3V1735h-3zM2217 1170h3V1735h-3zM2227 974h3V1735h-3zM2237 1222h3V1735h-3zM2247 1222h3V1735h-3zM3114 1222h3V1735h-3zM3124 1222h3V1735h-3zM3163 1140h3V1735h-3zM3173 1170h3V1735h-3z" fill="#009e73"/>
<path d="M61 1222h3V1735h-3zM71 1222h3V1735h-3zM81 1222h3V1735h-3zM90 1222h3V1735h-3zM100 1222h3V1735h-3zM110 1222h3V1735h-3zM120 1222h3V1735h-3zM130 1222h3V1735h-3zM140 1222h3V1735h-3zM150 1222h3V1735h-3zM159 1222h3V1735h-3zM169 1223h3V1735h-3zM179 1223h3V1735h-3zM189 1223h3V1735h-3zM199 1223h3V1735h-3zM209 1224h3V1735h-3zM219 1224h3V1735h-3zM228 1224h3V1735h-3zM238 1224h3V1735h-3zM248 1225h3V1735h-3zM258 1225h3V1735h-3zM268 1226h3V1735h-3zM278 1226h3V1735h-3zM288 1226h3V1735h-3zM297 1227h3V1735h-3zM307 1227h3V1735h-3zM317 1227h3V1735h-3zM327 1228h3V1735h-3zM337 1228h3V1735h-3zM347 1229h3V1735h-3zM357 1230h3V1735h-3zM366 1230h3V1735h-3zM376 1231h3V1735h-3zM386 1231h3V1735h-3zM396 1232h3V1735h-3zM406 1233h3V1735h-3zM416 1234h3V1735h-3zM426 1234h3V1735h-3zM435 1236h3V1735h-3zM445 1237h3V1735h-3zM455 1238h3V1735h-3zM465 1239h3V1735h-3zM475 1239h3V1735h-3zM485 1240h3V1735h-3zM495 1240h3V1735h-3zM504 1241h3V1735h-3zM514 1241h3V1735h-3zM524 1242h3V1735h-3zM534 1242h3V1735h-3zM544 1244h3V1735h-3zM554 1245h3V1735h-3zM564 1247h3V1735h-3zM573 1248h3V1735h-3zM583 1249h3V1735h-3zM593 1250h3V1735h-3zM603 1251h3V1735h-3zM613 1252h3V1735h-3zM623 1252h3V1735h-3zM633 1253h3V1735h-3zM642 1254h3V1735h-3zM652 1255h3V1735h-3zM662 1256h3V1735h-3zM672 1258h3V1735h-3zM682 1258h3V1735h-3zM692 1259h3V1735h-3zM702 1260h3V1735h-3zM711 1260h3V1735h-3zM721 1266h3V1735h-3zM731 1271h3V1735h-3zM741 1271h3V1735h-3zM751 1272h3V1735h-3zM761 1272h3V1735h-3zM770 1273h3V1735h-3zM780 1273h3V1735h-3zM790 1274h3V1735h-3zM800 1274h3V1735h-3zM810 1275h3V1735h-3zM820 1279h3V1735h-3zM830 1279h3V1735h-3zM839 1279h3V1735h-3zM849 1280h3V1735h-3zM859 1282h3V1735h-3zM869 1283h3V1735h-3zM879 1284h3V1735h-3zM889 1284h3V1735h-3zM899 1285h3V1735h-3zM908 1286h3V1735h-3zM918 1288h3V1735h-3zM928 1289h3V1735h-3zM938 1290h3V1735h-3zM948 1290h3V1735h-3zM958 1290h3V1735h-3zM968 1290h3V1735h-3zM977 1290h3V1735h-3zM987 1290h3V1735h-3zM997 1290h3V1735h-3zM1007 1290h3V1735h-3zM1017 1290h3V1735h-3zM1027 1290h3V1735h-3zM1037 1290h3V1735h-3zM1046 1290h3V1735h-3zM1056 1290h3V1735h-3zM1066 1290h3V1735h-3zM1076 1290h3V1735h-3zM1086 1290h3V1735h-3zM1096 1290h3V1735h-3zM1106 1290h3V1735h-3zM1115 1290h3V1735h-3zM1125 1290h3V1735h-3zM1135 1290h3V1735h-3zM1145 1290h3V1735h-3zM1155 1290h3V1735h-3zM1165 1290h3V1735h-3zM1175 1290h3V1735h-3zM1184 1290h3V1735h-3zM1194 1290h3V1735h-3zM1204 1290h3V1735h-3zM1214 1290h3V1735h-3zM1224 1290h3V1735h-3zM1234 1290h3V1735h-3zM1244 1290h3V1735h-3zM1253 1290h3V1735h-3zM1263 1290h3V1735h-3zM1273 1290h3V1735h-3zM1283 1290h3V1735h-3zM1293 1290h3V1735h-3zM1303 1290h3V1735h-3zM1313 1290h3V1735h-3zM1322 1290h3V1735h-3zM1332 1290h3V1735h-3zM1342 1290h3V1735h-3zM1352 1290h3V1735h-3zM1362 1290h3V1735h-3zM1372 1290h3V1735h-3zM1382 1290h3V1735h-3zM1391 1291h3V1735h-3zM1401 1291h3V1735h-3zM1411 1291h3V1735h-3zM1421 1292h3V1735h-3zM1431 1294h3V1735h-3zM1441 1295h3V1735h-3zM1450 1298h3V1735h-3zM1460 1299h3V1735h-3zM1470 1300h3V1735h-3zM1480 1301h3V1735h-3zM1490 1302h3V1735h-3zM1500 1308h3V1735h-3zM1510 1308h3V1735h-3zM1519 1308h3V1735h-3zM1529 1310h3V1735h-3zM1539 1310h3V1735h-3zM1549 1318h3V1735h-3zM1559 1318h3V1735h-3zM1569 1319h3V1735h-3zM1579 1320h3V1735h-3zM1588 1320h3V1735h-3zM1598 1320h3V1735h-3zM1608 1322h3V1735h-3zM1618 1322h3V1735h-3zM1628 1322h3V1735h-3zM1638 1323h3V1735h-3zM1648 1323h3V1735h-3zM1657 1325h3V1735h-3zM1667 1326h3V1735h-3zM1677 1326h3V1735h-3zM1687 1327h3V1735h-3zM1697 1328h3V1735h-3zM1707 1328h3V1735h-3zM1717 1332h3V1735h-3zM1726 1335h3V1735h-3zM1736 1335h3V1735h-3zM1746 1336h3V1735h-3zM1756 1339h3V1735h-3zM1766 1339h3V1735h-3zM1776 1340h3V1735h-3zM1786 1341h3V1735h-3zM1795 1342h3V1735h-3zM1805 1343h3V1735h-3zM1815 1350h3V1735h-3zM1825 1354h3V1735h-3zM1835 1356h3V1735h-3zM1845 1356h3V1735h-3zM1855 1358h3V1735h-3zM1864 1366h3V1735h-3zM1874 1369h3V1735h-3zM1884 1374h3V1735h-3zM1894 1375h3V1735h-3zM1904 1375h3V1735h-3zM1914 1375h3V1735h-3zM1924 1377h3V1735h-3zM1933 1378h3V1735h-3zM1943 1380h3V1735h-3zM1953 1380h3V1735h-3zM1963 1383h3V1735h-3zM1973 1385h3V1735h-3zM1983 1387h3V1735h-3zM1993 1397h3V1735h-3zM2002 1401h3V1735h-3zM2012 1403h3V1735h-3zM2022 1403h3V1735h-3zM2032 1404h3V1735h-3zM2042 1405h3V1735h-3zM2052 1405h3V1735h-3zM2061 1406h3V1735h-3zM2071 1407h3V1735h-3zM2081 1411h3V1735h-3zM2091 1411h3V1735h-3zM2101 1414h3V1735h-3zM2111 1415h3V1735h-3zM2121 1416h3V1735h-3zM2130 1421h3V1735h-3zM2140 1441h3V1735h-3zM2150 1453h3V1735h-3zM2160 1459h3V1735h-3zM2170 1460h3V1735h-3zM2180 1460h3V1735h-3zM2190 1462h3V1735h-3zM2199 1478h3V1735h-3zM2209 1484h3V1735h-3zM2219 1504h3V1735h-3zM2229 1505h3V1735h-3zM2239 1515h3V1735h-3zM2249 1554h3V1735h-3zM2259 1564h3V1735h-3zM2268 1564h3V1735h-3zM2278 1564h3V1735h-3zM2288 1564h3V1735h-3zM2298 1564h3V1735h-3zM2308 1564h3V1735h-3zM2318 1564h3V1735h-3zM2328 1564h3V1735h-3zM2337 1564h3V1735h-3zM2347 1564h3V1735h-3zM2357 1564h3V1735h-3zM2367 1564h3V1735h-3zM2377 1564h3V1735h-3zM2387 1564h3V1735h-3zM2397 1564h3V1735h-3zM2406 1564h3V1735h-3zM2416 1564h3V1735h-3zM2426 1564h3V1735h-3zM2436 1564h3V1735h-3zM2446 1564h3V1735h-3zM2456 1564h3V1735h-3zM2466 1564h3V1735h-3zM2475 1564h3V1735h-3zM2485 1564h3V1735h-3zM2495 1564h3V1735h-3zM2505 1564h3V1735h-3zM2515 1564h3V1735h-3zM2525 1564h3V1735h-3zM2535 1564h3V1735h-3zM2544 1564h3V1735h-3zM2554 1564h3V1735h-3zM2564 1564h3V1735h-3zM2574 1564h3V1735h-3zM2584 1564h3V1735h-3zM2594 1564h3V1735h-3zM2604 1564h3V1735h-3zM2613 1564h3V1735h-3zM2623 1564h3V1735h-3zM2633 1564h3V1735h-3zM2643 1564h3V1735h-3zM2653 1564h3V1735h-3zM2663 1564h3V1735h-3zM2673 1564h3V1735h-3zM2682 1564h3V1735h-3zM2692 1564h3V1735h-3zM2702 1564h3V1735h-3zM2712 1564h3V1735h-3zM2722 1564h3V1735h-3zM2732 1564h3V1735h-3zM2741 1564h3V1735h-3zM2751 1564h3V1735h-3zM2761 1564h3V1735h-3zM2771 1564h3V1735h-3zM2781 1564h3V1735h-3zM2791 1564h3V1735h-3zM2801 1564h3V1735h-3zM2810 1564h3V1735h-3zM2820 1564h3V1735h-3zM2830 1564h3V1735h-3zM2840 1564h3V1735h-3zM2850 1564h3V1735h-3zM2860 1564h3V1735h-3zM2870 1564h3V1735h-3zM2879 1564h3V1735h-3zM2889 1564h3V1735h-3zM2899 1564h3V1735h-3zM2909 1564h3V1735h-3zM2919 1564h3V1735h-3zM2929 1564h3V1735h-3zM2939 1564h3V1735h-3zM2948 1564h3V1735h-3zM2958 1564h3V1735h-3zM2968 1564h3V1735h-3zM2978 1564h3V1735h-3zM2988 1564h3V1735h-3zM2998 1564h3V1735h-3zM3008 1564h3V1735h-3zM3017 1564h3V1735h-3zM3027 1564h3V1735h-3zM3037 1564h3V1735h-3zM3047 1564h3V1735h-3zM3057 1564h3V1735h-3zM3067 1564h3V1735h-3zM3077 1564h3V1735h-3zM3086 1564h3V1735h-3zM3096 1564h3V1735h-3zM3106 1585h3V1735h-3zM3116 1586h3V1735h-3zM3126 1616h3V1735h-3zM3136 1643h3V1735h-3zM3146 1663h3V1735h-3zM3155 1663h3V1735h-3zM3165 1679h3V1735h-3zM3175 1683h3V1735h-3z" fill="#56b4e9"/>
<path d="M50.5 24.5H3184.5V1735.5H50.5z" stroke="#000" stroke-width="1" fill="none"/>
<rect x="3136" y="48" width="39" height="11" fill="#9400d3"/>
<rect x="3136" y="70" width="39" height="11" fill="#009e73"/>
<rect x="3136" y="92" width="39" height="11" fill="#56b4e9"/>
<defs><filter id="th" x="-5%" y="-5%" width="110%" height="110%" color-interpolation-filters="sRGB"><feComponentTransfer><feFuncA type="discrete" tableValues="0 0 0 0 0 0 0 0 0 0 0 0 0 0 0 0 0 1 1 1 1 1 1 1 1 1 1 1 1 1 1 1 1 1 1 1 1 1 1 1 1 1 1 1 1 1 1 1 1 1"/></feComponentTransfer></filter><filter id="t2" x="-5%" y="-5%" width="110%" height="110%" color-interpolation-filters="sRGB"><feComponentTransfer><feFuncA type="discrete" tableValues="0 0 0 0 0 0 0 0 0 0 1 1 1 1 1 1 1 1 1 1 1 1 1 1 1 1 1"/></feComponentTransfer></filter></defs>
<text filter="url(#th)" transform="translate(10 881) rotate(-90) scale(1 1.1)" text-anchor="middle">Message Count or Spam Score</text><g transform="scale(1 1.1)"><text filter="url(#th)" x="3131.25" y="50.91" text-anchor="end">Not Spam</text><text filter="url(#th)" x="3131.25" y="70.91" text-anchor="end">Spam</text><text filter="url(#th)" x="3131.25" y="90.91" text-anchor="end">Score (0..1)</text><text filter="url(#th)" x="1616.75" y="13.64" text-anchor="middle">RBL Statistics - Thu May 15 12:58:01 EDT 2025 - All Data</text><text filter="url(#th)" x="45.25" y="180.45" text-anchor="end">1x10^{6}</text><text filter="url(#th)" x="45.25" y="491.36" text-anchor="end">10000</text><text filter="url(#th)" x="45.25" y="802.27" text-anchor="end">100</text><text filter="url(#th)" x="45.25" y="1114.09" text-anchor="end">1</text><text filter="url(#th)" x="45.25" y="1425.00" text-anchor="end">0.01</text><text text-anchor="middle" filter="url(#t2)"><tspan x="60.5" y="1587.73">2@</tspan><tspan x="60.5" y="1595.00">zen</tspan><tspan x="60.5" y="1602.27">spamhaus</tspan><tspan x="60.5" y="1609.55">org</tspan><tspan x="60.5" y="1616.82">4 hops</tspan></text><text text-anchor="middle" filter="url(#t2)"><tspan x="70.5" y="1587.73">1@</tspan><tspan x="70.5" y="1595.00">dnsbl</tspan><tspan x="70.5" y="1602.27">sorbs</tspan><tspan x="70.5" y="1609.55">net</tspan><tspan x="70.5" y="1616.82">1 hop</tspan></text><text text-anchor="middle" filter="url(#t2)"><tspan x="80.5" y="1587.73">0@</tspan><tspan x="80.5" y="1595.00">recent</tspan><tspan x="80.5" y="1602.27">dnsbl</tspan><tspan x="80.5" y="1609.55">sorbs</tspan><tspan x="80.5" y="1616.82">net</tspan><tspan x="80.5" y="1624.09">3 hops</tspan></text><text text-anchor="middle" filter="url(#t2)"><tspan x="89.5" y="1587.73">2@</tspan><tspan x="89.5" y="1595.00">zen</tspan><tspan x="89.5" y="1602.27">spamhaus</tspan><tspan x="89.5" y="1609.55">org</tspan><tspan x="89.5" y="1616.82">3 hops</tspan></text><text text-anchor="middle" filter="url(#t2)"><tspan x="99.5" y="1587.73">9@</tspan><tspan x="99.5" y="1595.00">1.</tspan><tspan x="99.5" y="1602.27">list</tspan><tspan x="99.5" y="1609.55">dnswl</tspan><tspan x="99.5" y="1616.82">org</tspan><tspan x="99.5" y="1624.09">origin</tspan></text><text text-anchor="middle" filter="url(#t2)"><tspan x="109.5" y="1587.73">15@</tspan><tspan x="109.5" y="1595.00">dnsbl</tspan><tspan x="109.5" y="1602.27">sorbs</tspan><tspan x="109.5" y="1609.55">net</tspan><tspan x="109.5" y="1616.82">7 hops</tspan></text><text text-anchor="middle" filter="url(#t2)"><tspan x="119.5" y="1587.73">10@</tspan><tspan x="119.5" y="1595.00">ips</tspan><tspan x="119.5" y="1602.27">backscatterer</tspan><tspan x="119.5" y="1609.55">org</tspan><tspan x="119.5" y="1616.82">4 hops</tspan></text><text text-anchor="middle" filter="url(#t2)"><tspan x="129.5" y="1587.73">4@</tspan><tspan x="129.5" y="1595.00">dnsbl</tspan><tspan x="129.5" y="1602.27">sorbs</tspan><tspan x="129.5" y="1609.55">net</tspan><tspan x="129.5" y="1616.82">origin</tspan></text><text text-anchor="middle" filter="url(#t2)"><tspan x="139.5" y="1587.73">5@</tspan><tspan x="139.5" y="1595.00">spam</tspan><tspan x="139.5" y="1602.27">dnsbl</tspan><tspan x="139.5" y="1609.55">sorbs</tspan><tspan x="139.5" y="1616.82">net</tspan><tspan x="139.5" y="1624.09">4 hops</tspan></text><text text-anchor="middle" filter="url(#t2)"><tspan x="149.5" y="1587.73">5@</tspan><tspan x="149.5" y="1595.00">ips</tspan><tspan x="149.5" y="1602.27">backscatterer</tspan><tspan x="149.5" y="1609.55">org</tspan><tspan x="149.5" y="1616.82">6 hops</tspan></text><text text-anchor="middle" filter="url(#t2)"><tspan x="158.5" y="1587.73">8@</tspan><tspan x="158.5" y="1595.00">dnsbl-1</tspan><tspan x="158.5" y="1602.27">uceprotect</tspan><tspan x="158.5" y="1609.55">net</tspan><tspan x="158.5" y="1616.82">2 hops</tspan></text><text text-anchor="middle" filter="url(#t2)"><tspan x="168.5" y="1587.73">10@</tspan><tspan x="168.5" y="1595.00">ips</tspan><tspan x="168.5" y="1602.27">backscatterer</tspan><tspan x="168.5" y="1609.55">org</tspan><tspan x="168.5" y="1616.82">3 hops</tspan></text><text text-anchor="middle" filter="url(#t2)"><tspan x="178.5" y="1587.73">2@</tspan><tspan x="178.5" y="1595.00">zen</tspan><tspan x="178.5" y="1602.27">spamhaus</tspan><tspan x="178.5" y="1609.55">org</tspan><tspan x="178.5" y="1616.82">6 hops</tspan></text><text text-anchor="middle" filter="url(#t2)"><tspan x="188.5" y="1587.73">2@</tspan><tspan x="188.5" y="1595.00">ips</tspan><tspan x="188.5" y="1602.27">backscatterer</tspan><tspan x="188.5" y="1609.55">org</tspan><tspan x="188.5" y="1616.82">7 hops</tspan></text><text text-anchor="middle" filter="url(#t2)"><tspan x="198.5" y="1587.73">13@</tspan><tspan x="198.5" y="1595.00">dnsbl</tspan><tspan x="198.5" y="1602.27">sorbs</tspan><tspan x="198.5" y="1609.55">net</tspan><tspan x="198.5" y="1616.82">6 hops</tspan></text><text text-anchor="middle" filter="url(#t2)"><tspan x="208.5" y="1587.73">11@</tspan><tspan x="208.5" y="1595.00">pbl</tspan><tspan x="208.5" y="1602.27">spamhaus</tspan><tspan x="208.5" y="1609.55">org</tspan><tspan x="208.5" y="1616.82">7 hops</tspan></text><text text-anchor="middle" filter="url(#t2)"><tspan x="218.5" y="1587.73">5@</tspan><tspan x="218.5" y="1595.00">sbl</tspan><tspan x="218.5" y="1602.27">spamhaus</tspan><tspan x="218.5" y="1609.55">org</tspan><tspan x="218.5" y="1616.82">3 hops</tspan></text><text text-anchor="middle" filter="url(#t2)"><tspan x="227.5" y="1587.73">4@</tspan><tspan x="227.5" y="1595.00">psbl</tspan><tspan x="227.5" y="1602.27">surriel</tspan><tspan x="227.5" y="1609.55">com</tspan><tspan x="227.5" y="1616.82">1 hop</tspan></text><text text-anchor="middle" filter="url(#t2)"><tspan x="237.5" y="1587.73">5@</tspan><tspan x="237.5" y="1595.00">ips</tspan><tspan x="237.5" y="1602.27">backscatterer</tspan><tspan x="237.5" y="1609.55">org</tspan><tspan x="237.5" y="1616.82">6 hops</tspan></text><text text-anchor="middle" filter="url(#t2)"><tspan x="247.5" y="1587.73">6@</tspan><tspan x="247.5" y="1595.00">Y.</tspan><tspan x="247.5" y="1602.27">list</tspan><tspan x="247.5" y="1609.55">dnswl</tspan><tspan x="247.5" y="1616.82">org</tspan><tspan x="247.5" y="1624.09">5 hops</tspan></text><text text-anchor="middle" filter="url(#t2)"><tspan x="257.5" y="1587.73">2@</tspan><tspan x="257.5" y="1595.00">ips</tspan><tspan x="257.5" y="1602.27">backscatterer</tspan><tspan x="257.5" y="1609.55">org</tspan><tspan x="257.5" y="1616.82">1 hop</tspan></text><text text-anchor="middle" filter="url(#t2)"><tspan x="267.5" y="1587.73">9@</tspan><tspan x="267.5" y="1595.00">Y.</tspan><tspan x="267.5" y="1602.27">list</tspan><tspan x="267.5" y="1609.55">dnswl</tspan><tspan x="267.5" y="1616.82">org</tspan><tspan x="267.5" y="1624.09">2 hops</tspan></text><text text-anchor="middle" filter="url(#t2)"><tspan x="277.5" y="1587.73">13@</tspan><tspan x="277.5" y="1595.00">misc</tspan><tspan x="277.5" y="1602.27">dnsbl</tspan><tspan x="277.5" y="1609.55">sorbs</tspan><tspan x="277.5" y="1616.82">net</tspan><tspan x="277.5" y="1624.09">4 hops</tspan></text><text text-anchor="middle" filter="url(#t2)"><tspan x="287.5" y="1587.73">1@</tspan><tspan x="287.5" y="1595.00">dnsbl</tspan><tspan x="287.5" y="1602.27">sorbs</tspan><tspan x="287.5" y="1609.55">net</tspan><tspan x="287.5" y="1616.82">7 hops</tspan></text><text text-anchor="middle" filter="url(#t2)"><tspan x="296.5" y="1587.73">6@</tspan><tspan x="296.5" y="1595.00">dnsbl-3</tspan><tspan x="296.5" y="1602.27">uceprotect</tspan><tspan x="296.5" y="1609.55">net</tspan><tspan x="296.5" y="1616.82">3 hops</tspan></text><text text-anchor="middle" filter="url(#t2)"><tspan x="306.5" y="1587.73">14@</tspan><tspan x="306.5" y="1595.00">pbl</tspan><tspan x="306.5" y="1602.27">spamhaus</tspan><tspan x="306.5" y="1609.55">org</tspan><tspan x="306.5" y="1616.82">5 hops</tspan></text><text text-anchor="middle" filter="url(#t2)"><tspan x="316.5" y="1587.73">2@</tspan><tspan x="316.5" y="1595.00">dnsbl</tspan><tspan x="316.5" y="1602.27">sorbs</tspan><tspan x="316.5" y="1609.55">net</tspan><tspan x="316.5" y="1616.82">2 hops</tspan></text><text text-anchor="middle" filter="url(#t2)"><tspan x="326.5" y="1587.73">2@</tspan><tspan x="326.5" y="1595.00">b</tspan><tspan x="326.5" y="1602.27">barracudacentral</tspan><tspan x="326.5" y="1609.55">org</tspan><tspan x="326.5" y="1616.82">origin</tspan></text><text text-anchor="middle" filter="url(#t2)"><tspan x="336.5" y="1587.73">5@</tspan><tspan x="336.5" y="1595.00">psbl</tspan><tspan x="336.5" y="1602.27">surriel</tspan><tspan x="336.5" y="1609.55">com</tspan><tspan x="336.5" y="1616.82">7 hops</tspan></text><text text-anchor="middle" filter="url(#t2)"><tspan x="346.5" y="1587.73">11@</tspan><tspan x="346.5" y="1595.00">b</tspan><tspan x="346.5" y="1602.27">barracudacentral</tspan><tspan x="346.5" y="1609.55">org</tspan><tspan x="346.5" y="1616.82">2 hops</tspan></text><text text-anchor="middle" filter="url(#t2)"><tspan x="356.5" y="1587.73">9@</tspan><tspan x="356.5" y="1595.00">psbl</tspan><tspan x="356.5" y="1602.27">surriel</tspan><tspan x="356.5" y="1609.55">com</tspan><tspan x="356.5" y="1616.82">3 hops</tspan></text><text text-anchor="middle" filter="url(#t2)"><tspan x="365.5" y="1587.73">11@</tspan><tspan x="365.5" y="1595.00">spam</tspan><tspan x="365.5" y="1602.27">dnsbl</tspan><tspan x="365.5" y="1609.55">sorbs</tspan><tspan x="365.5" y="1616.82">net</tspan><tspan x="365.5" y="1624.09">3 hops</tspan></text><text text-anchor="middle" filter="url(#t2)"><tspan x="375.5" y="1587.73">2@</tspan><tspan x="375.5" y="1595.00">Y.</tspan><tspan x="375.5" y="1602.27">list</tspan><tspan x="375.5" y="1609.55">dnswl</tspan><tspan x="375.5" y="1616.82">org</tspan><tspan x="375.5" y="1624.09">3 hops</tspan></text><text text-anchor="middle" filter="url(#t2)"><tspan x="385.5" y="1587.73">4@</tspan><tspan x="385.5" y="1595.00">dnsbl</tspan><tspan x="385.5" y="1602.27">sorbs</tspan><tspan x="385.5" y="1609.55">net</tspan><tspan x="385.5" y="1616.82">4 hops</tspan></text><text text-anchor="middle" filter="url(#t2)"><tspan x="395.5" y="1587.73">13@</tspan><tspan x="395.5" y="1595.00">dnsbl-1</tspan><tspan x="395.5" y="1602.27">uceprotect</tspan><tspan x="395.5" y="1609.55">net</tspan><tspan x="395.5" y="1616.82">1 hop</tspan></text><text text-anchor="middle" filter="url(#t2)"><tspan x="405.5" y="1587.73">9@</tspan><tspan x="405.5" y="1595.00">Y.</tspan><tspan x="405.5" y="1602.27">list</tspan><tspan x="405.5" y="1609.55">dnswl</tspan><tspan x="405.5" y="1616.82">org</tspan><tspan x="405.5" y="1624.09">6 hops</tspan></text><text text-anchor="middle" filter="url(#t2)"><tspan x="415.5" y="1587.73">9@</tspan><tspan x="415.5" y="1595.00">recent</tspan><tspan x="415.5" y="1602.27">dnsbl</tspan><tspan x="415.5" y="1609.55">sorbs</tspan><tspan x="415.5" y="1616.82">net</tspan><tspan x="415.5" y="1624.09">6 hops</tspan></text><text text-anchor="middle" filter="url(#t2)"><tspan x="425.5" y="1587.73">8@</tspan><tspan x="425.5" y="1595.00">sbl</tspan><tspan x="425.5" y="1602.27">spamhaus</tspan><tspan x="425.5" y="1609.55">org</tspan><tspan x="425.5" y="1616.82">4 hops</tspan></text><text text-anchor="middle" filter="url(#t2)"><tspan x="434.5" y="1587.73">2@</tspan><tspan x="434.5" y="1595.00">misc</tspan><tspan x="434.5" y="1602.27">dnsbl</tspan><tspan x="434.5" y="1609.55">sorbs</tspan><tspan x="434.5" y="1616.82">net</tspan><tspan x="434.5" y="1624.09">2 hops</tspan></text><text text-anchor="middle" filter="url(#t2)"><tspan x="444.5" y="1587.73">2@</tspan><tspan x="444.5" y="1595.00">dnsbl</tspan><tspan x="444.5" y="1602.27">sorbs</tspan><tspan x="444.5" y="1609.55">net</tspan><tspan x="444.5" y="1616.82">5 hops</tspan></text><text text-anchor="middle" filter="url(#t2)"><tspan x="454.5" y="1587.73">4@</tspan><tspan x="454.5" y="1595.00">recent</tspan><tspan x="454.5" y="1602.27">dnsbl</tspan><tspan x="454.5" y="1609.55">sorbs</tspan><tspan x="454.5" y="1616.82">net</tspan><tspan x="454.5" y="1624.09">2 hops</tspan></text><text text-anchor="middle" filter="url(#t2)"><tspan x="464.5" y="1587.73">6@</tspan><tspan x="464.5" y="1595.00">Y.</tspan><tspan x="464.5" y="1602.27">list</tspan><tspan x="464.5" y="1609.55">dnswl</tspan><tspan x="464.5" y="1616.82">org</tspan><tspan x="464.5" y="1624.09">7 hops</tspan></text><text text-anchor="middle" filter="url(#t2)"><tspan x="474.5" y="1587.73">0@</tspan><tspan x="474.5" y="1595.00">dnsbl</tspan><tspan x="474.5" y="1602.27">sorbs</tspan><tspan x="474.5" y="1609.55">net</tspan><tspan x="474.5" y="1616.82">7 hops</tspan></text><text text-anchor="middle" filter="url(#t2)"><tspan x="484.5" y="1587.73">2@</tspan><tspan x="484.5" y="1595.00">psbl</tspan><tspan x="484.5" y="1602.27">surriel</tspan><tspan x="484.5" y="1609.55">com</tspan><tspan x="484.5" y="1616.82">5 hops</tspan></text><text text-anchor="middle" filter="url(#t2)"><tspan x="494.5" y="1587.73">8@</tspan><tspan x="494.5" y="1595.00">dnsbl-2</tspan><tspan x="494.5" y="1602.27">uceprotect</tspan><tspan x="494.5" y="1609.55">net</tspan><tspan x="494.5" y="1616.82">6 hops</tspan></text><text text-anchor="middle" filter="url(#t2)"><tspan x="503.5" y="1587.73">9@</tspan><tspan x="503.5" y="1595.00">zen</tspan><tspan x="503.5" y="1602.27">spamhaus</tspan><tspan x="503.5" y="1609.55">org</tspan><tspan x="503.5" y="1616.82">4 hops</tspan></text><text text-anchor="middle" filter="url(#t2)"><tspan x="513.5" y="1587.73">15@</tspan><tspan x="513.5" y="1595.00">0.</tspan><tspan x="513.5" y="1602.27">list</tspan><tspan x="513.5" y="1609.55">dnswl</tspan><tspan x="513.5" y="1616.82">org</tspan><tspan x="513.5" y="1624.09">4 hops</tspan></text><text text-anchor="middle" filter="url(#t2)"><tspan x="523.5" y="1587.73">2@</tspan><tspan x="523.5" y="1595.00">dnsbl</tspan><tspan x="523.5" y="1602.27">sorbs</tspan><tspan x="523.5" y="1609.55">net</tspan><tspan x="523.5" y="1616.82">3 hops</tspan></text><text text-anchor="middle" filter="url(#t2)"><tspan x="533.5" y="1587.73">6@</tspan><tspan x="533.5" y="1595.00">dnsbl</tspan><tspan x="533.5" y="1602.27">sorbs</tspan><tspan x="533.5" y="1609.55">net</tspan><tspan x="533.5" y="1616.82">7 hops</tspan></text><text text-anchor="middle" filter="url(#t2)"><tspan x="543.5" y="1587.73">2@</tspan><tspan x="543.5" y="1595.00">ips</tspan><tspan x="543.5" y="1602.27">backscatterer</tspan><tspan x="543.5" y="1609.55">org</tspan><tspan x="543.5" y="1616.82">6 hops</tspan></text><text text-anchor="middle" filter="url(#t2)"><tspan x="553.5" y="1587.73">6@</tspan><tspan x="553.5" y="1595.00">smtp</tspan><tspan x="553.5" y="1602.27">dnsbl</tspan><tspan x="553.5" y="1609.55">sorbs</tspan><tspan x="553.5" y="1616.82">net</tspan><tspan x="553.5" y="1624.09">7 hops</tspan></text><text text-anchor="middle" filter="url(#t2)"><tspan x="563.5" y="1587.73">9@</tspan><tspan x="563.5" y="1595.00">ips</tspan><tspan x="563.5" y="1602.27">backscatterer</tspan><tspan x="563.5" y="1609.55">org</tspan><tspan x="563.5" y="1616.82">2 hops</tspan></text><text text-anchor="middle" filter="url(#t2)"><tspan x="572.5" y="1587.73">4@</tspan><tspan x="572.5" y="1595.00">b</tspan><tspan x="572.5" y="1602.27">barracudacentral</tspan><tspan x="572.5" y="1609.55">org</tspan><tspan x="572.5" y="1616.82">3 hops</tspan></text><text text-anchor="middle" filter="url(#t2)"><tspan x="582.5" y="1587.73">6@</tspan><tspan x="582.5" y="1595.00">ips</tspan><tspan x="582.5" y="1602.27">backscatterer</tspan><tspan x="582.5" y="1609.55">org</tspan><tspan x="582.5" y="1616.82">5 hops</tspan></text><text text-anchor="middle" filter="url(#t2)"><tspan x="592.5" y="1587.73">2@</tspan><tspan x="592.5" y="1595.00">dnsbl</tspan><tspan x="592.5" y="1602.27">sorbs</tspan><tspan x="592.5" y="1609.55">net</tspan><tspan x="592.5" y="1616.82">5 hops</tspan></text><text text-anchor="middle" filter="url(#t2)"><tspan x="602.5" y="1587.73">13@</tspan><tspan x="602.5" y="1595.00">Y.</tspan><tspan x="602.5" y="1602.27">list</tspan><tspan x="602.5" y="1609.55">dnswl</tspan><tspan x="602.5" y="1616.82">org</tspan><tspan x="602.5" y="1624.09">5 hops</tspan></text><text text-anchor="middle" filter="url(#t2)"><tspan x="612.5" y="1587.73">2@</tspan><tspan x="612.5" y="1595.00">dnsbl</tspan><tspan x="612.5" y="1602.27">sorbs</tspan><tspan x="612.5" y="1609.55">net</tspan><tspan x="612.5" y="1616.82">1 hop</tspan></text><text text-anchor="middle" filter="url(#t2)"><tspan x="622.5" y="1587.73">4@</tspan><tspan x="622.5" y="1595.00">psbl</tspan><tspan x="622.5" y="1602.27">surriel</tspan><tspan x="622.5" y="1609.55">com</tspan><tspan x="622.5" y="1616.82">5 hops</tspan></text><text text-anchor="middle" filter="url(#t2)"><tspan x="632.5" y="1587.73">3@</tspan><tspan x="632.5" y="1595.00">dnsbl-1</tspan><tspan x="632.5" y="1602.27">uceprotect</tspan><tspan x="632.5" y="1609.55">net</tspan><tspan x="632.5" y="1616.82">6 hops</tspan></text><text text-anchor="middle" filter="url(#t2)"><tspan x="641.5" y="1587.73">0@</tspan><tspan x="641.5" y="1595.00">old</tspan><tspan x="641.5" y="1602.27">dnsbl</tspan><tspan x="641.5" y="1609.55">sorbs</tspan><tspan x="641.5" y="1616.82">net</tspan><tspan x="641.5" y="1624.09">3 hops</tspan></text><text text-anchor="middle" filter="url(#t2)"><tspan x="651.5" y="1587.73">0@</tspan><tspan x="651.5" y="1595.00">dnsbl</tspan><tspan x="651.5" y="1602.27">sorbs</tspan><tspan x="651.5" y="1609.55">net</tspan><tspan x="651.5" y="1616.82">2 hops</tspan></text><text text-anchor="middle" filter="url(#t2)"><tspan x="661.5" y="1587.73">2@</tspan><tspan x="661.5" y="1595.00">dnsbl-3</tspan><tspan x="661.5" y="1602.27">uceprotect</tspan><tspan x="661.5" y="1609.55">net</tspan><tspan x="661.5" y="1616.82">2 hops</tspan></text><text text-anchor="middle" filter="url(#t2)"><tspan x="671.5" y="1587.73">3@</tspan><tspan x="671.5" y="1595.00">sbl</tspan><tspan x="671.5" y="1602.27">spamhaus</tspan><tspan x="671.5" y="1609.55">org</tspan><tspan x="671.5" y="1616.82">3 hops</tspan></text><text text-anchor="middle" filter="url(#t2)"><tspan x="681.5" y="1587.73">1@</tspan><tspan x="681.5" y="1595.00">Y.</tspan><tspan x="681.5" y="1602.27">list</tspan><tspan x="681.5" y="1609.55">dnswl</tspan><tspan x="681.5" y="1616.82">org</tspan><tspan x="681.5" y="1624.09">6 hops</tspan></text><text text-anchor="middle" filter="url(#t2)"><tspan x="691.5" y="1587.73">4@</tspan><tspan x="691.5" y="1595.00">b</tspan><tspan x="691.5" y="1602.27">barracudacentral</tspan><tspan x="691.5" y="1609.55">org</tspan><tspan x="691.5" y="1616.82">7 hops</tspan></text><text text-anchor="middle" filter="url(#t2)"><tspan x="701.5" y="1587.73">3@</tspan><tspan x="701.5" y="1595.00">bl</tspan><tspan x="701.5" y="1602.27">spamcop</tspan><tspan x="701.5" y="1609.55">net</tspan><tspan x="701.5" y="1616.82">3 hops</tspan></text><text text-anchor="middle" filter="url(#t2)"><tspan x="710.5" y="1587.73">9@</tspan><tspan x="710.5" y="1595.00">dnsbl-1</tspan><tspan x="710.5" y="1602.27">uceprotect</tspan><tspan x="710.5" y="1609.55">net</tspan><tspan x="710.5" y="1616.82">3 hops</tspan></text><text text-anchor="middle" filter="url(#t2)"><tspan x="720.5" y="1587.73">13@</tspan><tspan x="720.5" y="1595.00">0.</tspan><tspan x="720.5" y="1602.27">list</tspan><tspan x="720.5" y="1609.55">dnswl</tspan><tspan x="720.5" y="1616.82">org</tspan><tspan x="720.5" y="1624.09">3 hops</tspan></text><text text-anchor="middle" filter="url(#t2)"><tspan x="730.5" y="1587.73">4@</tspan><tspan x="730.5" y="1595.00">socks</tspan><tspan x="730.5" y="1602.27">dnsbl</tspan><tspan x="730.5" y="1609.55">sorbs</tspan><tspan x="730.5" y="1616.82">net</tspan><tspan x="730.5" y="1624.09">5 hops</tspan></text><text text-anchor="middle" filter="url(#t2)"><tspan x="740.5" y="1587.73">6@</tspan><tspan x="740.5" y="1595.00">ips</tspan><tspan x="740.5" y="1602.27">backscatterer</tspan><tspan x="740.5" y="1609.55">org</tspan><tspan x="740.5" y="1616.82">5 hops</tspan></text><text text-anchor="middle" filter="url(#t2)"><tspan x="750.5" y="1587.73">6@</tspan><tspan x="750.5" y="1595.00">bl</tspan><tspan x="750.5" y="1602.27">spamcop</tspan><tspan x="750.5" y="1609.55">net</tspan><tspan x="750.5" y="1616.82">3 hops</tspan></text><text text-anchor="middle" filter="url(#t2)"><tspan x="760.5" y="1587.73">4@</tspan><tspan x="760.5" y="1595.00">smtp</tspan><tspan x="760.5" y="1602.27">dnsbl</tspan><tspan x="760.5" y="1609.55">sorbs</tspan><tspan x="760.5" y="1616.82">net</tspan><tspan x="760.5" y="1624.09">1 hop</tspan></text><text text-anchor="middle" filter="url(#t2)"><tspan x="769.5" y="1587.73">3@</tspan><tspan x="769.5" y="1595.00">zen</tspan><tspan x="769.5" y="1602.27">spamhaus</tspan><tspan x="769.5" y="1609.55">org</tspan><tspan x="769.5" y="1616.82">5 hops</tspan></text><text text-anchor="middle" filter="url(#t2)"><tspan x="779.5" y="1587.73">15@</tspan><tspan x="779.5" y="1595.00">1.</tspan><tspan x="779.5" y="1602.27">list</tspan><tspan x="779.5" y="1609.55">dnswl</tspan><tspan x="779.5" y="1616.82">org</tspan><tspan x="779.5" y="1624.09">3 hops</tspan></text><text text-anchor="middle" filter="url(#t2)"><tspan x="789.5" y="1587.73">8@</tspan><tspan x="789.5" y="1595.00">dnsbl-2</tspan><tspan x="789.5" y="1602.27">uceprotect</tspan><tspan x="789.5" y="1609.55">net</tspan><tspan x="789.5" y="1616.82">1 hop</tspan></text><text text-anchor="middle" filter="url(#t2)"><tspan x="799.5" y="1587.73">3@</tspan><tspan x="799.5" y="1595.00">bl</tspan><tspan x="799.5" y="1602.27">spamcop</tspan><tspan x="799.5" y="1609.55">net</tspan><tspan x="799.5" y="1616.82">5 hops</tspan></text><text text-anchor="middle" filter="url(#t2)"><tspan x="809.5" y="1587.73">9@</tspan><tspan x="809.5" y="1595.00">socks</tspan><tspan x="809.5" y="1602.27">dnsbl</tspan><tspan x="809.5" y="1609.55">sorbs</tspan><tspan x="809.5" y="1616.82">net</tspan><tspan x="809.5" y="1624.09">3 hops</tspan></text><text text-anchor="middle" filter="url(#t2)"><tspan x="819.5" y="1587.73">11@</tspan><tspan x="819.5" y="1595.00">zen</tspan><tspan x="819.5" y="1602.27">spamhaus</tspan><tspan x="819.5" y="1609.55">org</tspan><tspan x="819.5" y="1616.82">4 hops</tspan></text><text text-anchor="middle" filter="url(#t2)"><tspan x="829.5" y="1587.73">3@</tspan><tspan x="829.5" y="1595.00">psbl</tspan><tspan x="829.5" y="1602.27">surriel</tspan><tspan x="829.5" y="1609.55">com</tspan><tspan x="829.5" y="1616.82">2 hops</tspan></text><text text-anchor="middle" filter="url(#t2)"><tspan x="838.5" y="1587.73">2@</tspan><tspan x="838.5" y="1595.00">dnsbl</tspan><tspan x="838.5" y="1602.27">sorbs</tspan><tspan x="838.5" y="1609.55">net</tspan><tspan x="838.5" y="1616.82">2 hops</tspan></text><text text-anchor="middle" filter="url(#t2)"><tspan x="848.5" y="1587.73">15@</tspan><tspan x="848.5" y="1595.00">3.</tspan><tspan x="848.5" y="1602.27">list</tspan><tspan x="848.5" y="1609.55">dnswl</tspan><tspan x="848.5" y="1616.82">org</tspan><tspan x="848.5" y="1624.09">2 hops</tspan></text><text text-anchor="middle" filter="url(#t2)"><tspan x="858.5" y="1587.73">6@</tspan><tspan x="858.5" y="1595.00">b</tspan><tspan x="858.5" y="1602.27">barracudacentral</tspan><tspan x="858.5" y="1609.55">org</tspan><tspan x="858.5" y="1616.82">2 hops</tspan></text><text text-anchor="middle" filter="url(#t2)"><tspan x="868.5" y="1587.73">1@</tspan><tspan x="868.5" y="1595.00">0.</tspan><tspan x="868.5" y="1602.27">list</tspan><tspan x="868.5" y="1609.55">dnswl</tspan><tspan x="868.5" y="1616.82">org</tspan><tspan x="868.5" y="1624.09">2 hops</tspan></text><text text-anchor="middle" filter="url(#t2)"><tspan x="878.5" y="1587.73">15@</tspan><tspan x="878.5" y="1595.00">dnsbl</tspan><tspan x="878.5" y="1602.27">sorbs</tspan><tspan x="878.5" y="1609.55">net</tspan><tspan x="878.5" y="1616.82">1 hop</tspan></text><text text-anchor="middle" filter="url(#t2)"><tspan x="888.5" y="1587.73">9@</tspan><tspan x="888.5" y="1595.00">dnsbl</tspan><tspan x="888.5" y="1602.27">sorbs</tspan><tspan x="888.5" y="1609.55">net</tspan><tspan x="888.5" y="1616.82">3 hops</tspan></text><text text-anchor="middle" filter="url(#t2)"><tspan x="898.5" y="1587.73">2@</tspan><tspan x="898.5" y="1595.00">old</tspan><tspan x="898.5" y="1602.27">dnsbl</tspan><tspan x="898.5" y="1609.55">sorbs</tspan><tspan x="898.5" y="1616.82">net</tspan><tspan x="898.5" y="1624.09">2 hops</tspan></text><text text-anchor="middle" filter="url(#t2)"><tspan x="907.5" y="1587.73">10@</tspan><tspan x="907.5" y="1595.00">recent</tspan><tspan x="907.5" y="1602.27">dnsbl</tspan><tspan x="907.5" y="1609.55">sorbs</tspan><tspan x="907.5" y="1616.82">net</tspan><tspan x="907.5" y="1624.09">3 hops</tspan></text><text text-anchor="middle" filter="url(#t2)"><tspan x="917.5" y="1587.73">2@</tspan><tspan x="917.5" y="1595.00">dnsbl-3</tspan><tspan x="917.5" y="1602.27">uceprotect</tspan><tspan x="917.5" y="1609.55">net</tspan><tspan x="917.5" y="1616.82">origin</tspan></text><text text-anchor="middle" filter="url(#t2)"><tspan x="927.5" y="1587.73">11@</tspan><tspan x="927.5" y="1595.00">pbl</tspan><tspan x="927.5" y="1602.27">spamhaus</tspan><tspan x="927.5" y="1609.55">org</tspan><tspan x="927.5" y="1616.82">7 hops</tspan></text><text text-anchor="middle" filter="url(#t2)"><tspan x="937.5" y="1587.73">2@</tspan><tspan x="937.5" y="1595.00">2.</tspan><tspan x="937.5" y="1602.27">list</tspan><tspan x="937.5" y="1609.55">dnswl</tspan><tspan x="937.5" y="1616.82">org</tspan><tspan x="937.5" y="1624.09">6 hops</tspan></text><text text-anchor="middle" filter="url(#t2)"><tspan x="947.5" y="1587.73">0@</tspan><tspan x="947.5" y="1595.00">3.</tspan><tspan x="947.5" y="1602.27">list</tspan><tspan x="947.5" y="1609.55">dnswl</tspan><tspan x="947.5" y="1616.82">org</tspan><tspan x="947.5" y="1624.09">origin</tspan></text><text text-anchor="middle" filter="url(#t2)"><tspan x="957.5" y="1587.73">14@</tspan><tspan x="957.5" y="1595.00">2.</tspan><tspan x="957.5" y="1602.27">list</tspan><tspan x="957.5" y="1609.55">dnswl</tspan><tspan x="957.5" y="1616.82">org</tspan><tspan x="957.5" y="1624.09">origin</tspan></text><text text-anchor="middle" filter="url(#t2)"><tspan x="967.5" y="1587.73">2@</tspan><tspan x="967.5" y="1595.00">1.</tspan><tspan x="967.5" y="1602.27">list</tspan><tspan x="967.5" y="1609.55">dnswl</tspan><tspan x="967.5" y="1616.82">org</tspan><tspan x="967.5" y="1624.09">5 hops</tspan></text><text text-anchor="middle" filter="url(#t2)"><tspan x="976.5" y="1587.73">2@</tspan><tspan x="976.5" y="1595.00">3.</tspan><tspan x="976.5" y="1602.27">list</tspan><tspan x="976.5" y="1609.55">dnswl</tspan><tspan x="976.5" y="1616.82">org</tspan><tspan x="976.5" y="1624.09">3 hops</tspan></text><text text-anchor="middle" filter="url(#t2)"><tspan x="986.5" y="1587.73">1@</tspan><tspan x="986.5" y="1595.00">2.</tspan><tspan x="986.5" y="1602.27">list</tspan><tspan x="986.5" y="1609.55">dnswl</tspan><tspan x="986.5" y="1616.82">org</tspan><tspan x="986.5" y="1624.09">origin</tspan></text><text text-anchor="middle" filter="url(#t2)"><tspan x="996.5" y="1587.73">4@</tspan><tspan x="996.5" y="1595.00">1.</tspan><tspan x="996.5" y="1602.27">list</tspan><tspan x="996.5" y="1609.55">dnswl</tspan><tspan x="996.5" y="1616.82">org</tspan><tspan x="996.5" y="1624.09">origin</tspan></text><text text-anchor="middle" filter="url(#t2)"><tspan x="1006.5" y="1587.73">11@</tspan><tspan x="1006.5" y="1595.00">0.</tspan><tspan x="1006.5" y="1602.27">list</tspan><tspan x="1006.5" y="1609.55">dnswl</tspan><tspan x="1006.5" y="1616.82">org</tspan><tspan x="1006.5" y="1624.09">6 hops</tspan></text><text text-anchor="middle" filter="url(#t2)"><tspan x="1016.5" y="1587.73">11@</tspan><tspan x="1016.5" y="1595.00">2.</tspan><tspan x="1016.5" y="1602.27">list</tspan><tspan x="1016.5" y="1609.55">dnswl</tspan><tspan x="1016.5" y="1616.82">org</tspan><tspan x="1016.5" y="1624.09">3 hops</tspan></text><text text-anchor="middle" filter="url(#t2)"><tspan x="1026.5" y="1587.73">4@</tspan><tspan x="1026.5" y="1595.00">ips</tspan><tspan x="1026.5" y="1602.27">backscatterer</tspan><tspan x="1026.5" y="1609.55">org</tspan><tspan x="1026.5" y="1616.82">5 hops</tspan></text><text text-anchor="middle" filter="url(#t2)"><tspan x="1036.5" y="1587.73">1@</tspan><tspan x="1036.5" y="1595.00">2.</tspan><tspan x="1036.5" y="1602.27">list</tspan><tspan x="1036.5" y="1609.55">dnswl</tspan><tspan x="1036.5" y="1616.82">org</tspan><tspan x="1036.5" y="1624.09">5 hops</tspan></text><text text-anchor="middle" filter="url(#t2)"><tspan x="1045.5" y="1587.73">0@</tspan><tspan x="1045.5" y="1595.00">ips</tspan><tspan x="1045.5" y="1602.27">backscatterer</tspan><tspan x="1045.5" y="1609.55">org</tspan><tspan x="1045.5" y="1616.82">2 hops</tspan></text><text text-anchor="middle" filter="url(#t2)"><tspan x="1055.5" y="1587.73">3@</tspan><tspan x="1055.5" y="1595.00">2.</tspan><tspan x="1055.5" y="1602.27">list</tspan><tspan x="1055.5" y="1609.55">dnswl</tspan><tspan x="1055.5" y="1616.82">org</tspan><tspan x="1055.5" y="1624.09">5 hops</tspan></text><text text-anchor="middle" filter="url(#t2)"><tspan x="1065.5" y="1587.73">2@</tspan><tspan x="1065.5" y="1595.00">3.</tspan><tspan x="1065.5" y="1602.27">list</tspan><tspan x="1065.5" y="1609.55">dnswl</tspan><tspan x="1065.5" y="1616.82">org</tspan><tspan x="1065.5" y="1624.09">4 hops</tspan></text><text text-anchor="middle" filter="url(#t2)"><tspan x="1075.5" y="1587.73">2@</tspan><tspan x="1075.5" y="1595.00">1.</tspan><tspan x="1075.5" y="1602.27">list</tspan><tspan x="1075.5" y="1609.55">dnswl</tspan><tspan x="1075.5" y="1616.82">org</tspan><tspan x="1075.5" y="1624.09">3 hops</tspan></text><text text-anchor="middle" filter="url(#t2)"><tspan x="1085.5" y="1587.73">3@</tspan><tspan x="1085.5" y="1595.00">1.</tspan><tspan x="1085.5" y="1602.27">list</tspan><tspan x="1085.5" y="1609.55">dnswl</tspan><tspan x="1085.5" y="1616.82">org</tspan><tspan x="1085.5" y="1624.09">2 hops</tspan></text><text text-anchor="middle" filter="url(#t2)"><tspan x="1095.5" y="1587.73">15@</tspan><tspan x="1095.5" y="1595.00">2.</tspan><tspan x="1095.5" y="1602.27">list</tspan><tspan x="1095.5" y="1609.55">dnswl</tspan><tspan x="1095.5" y="1616.82">org</tspan><tspan x="1095.5" y="1624.09">3 hops</tspan></text><text text-anchor="middle" filter="url(#t2)"><tspan x="1105.5" y="1587.73">2@</tspan><tspan x="1105.5" y="1595.00">2.</tspan><tspan x="1105.5" y="1602.27">list</tspan><tspan x="1105.5" y="1609.55">dnswl</tspan><tspan x="1105.5" y="1616.82">org</tspan><tspan x="1105.5" y="1624.09">5 hops</tspan></text><text text-anchor="middle" filter="url(#t2)"><tspan x="1114.5" y="1587.73">2@</tspan><tspan x="1114.5" y="1595.00">ips</tspan><tspan x="1114.5" y="1602.27">backscatterer</tspan><tspan x="1114.5" y="1609.55">org</tspan><tspan x="1114.5" y="1616.82">4 hops</tspan></text><text text-anchor="middle" filter="url(#t2)"><tspan x="1124.5" y="1587.73">3@</tspan><tspan x="1124.5" y="1595.00">2.</tspan><tspan x="1124.5" y="1602.27">list</tspan><tspan x="1124.5" y="1609.55">dnswl</tspan><tspan x="1124.5" y="1616.82">org</tspan><tspan x="1124.5" y="1624.09">3 hops</tspan></text><text text-anchor="middle" filter="url(#t2)"><tspan x="1134.5" y="1587.73">9@</tspan><tspan x="1134.5" y="1595.00">ips</tspan><tspan x="1134.5" y="1602.27">backscatterer</tspan><tspan x="1134.5" y="1609.55">org</tspan><tspan x="1134.5" y="1616.82">6 hops</tspan></text><text text-anchor="middle" filter="url(#t2)"><tspan x="1144.5" y="1587.73">6@</tspan><tspan x="1144.5" y="1595.00">2.</tspan><tspan x="1144.5" y="1602.27">list</tspan><tspan x="1144.5" y="1609.55">dnswl</tspan><tspan x="1144.5" y="1616.82">org</tspan><tspan x="1144.5" y="1624.09">4 hops</tspan></text><text text-anchor="middle" filter="url(#t2)"><tspan x="1154.5" y="1587.73">6@</tspan><tspan x="1154.5" y="1595.00">Y.</tspan><tspan x="1154.5" y="1602.27">list</tspan><tspan x="1154.5" y="1609.55">dnswl</tspan><tspan x="1154.5" y="1616.82">org</tspan><tspan x="1154.5" y="1624.09">1 hop</tspan></text><text text-anchor="middle" filter="url(#t2)"><tspan x="1164.5" y="1587.73">6@</tspan><tspan x="1164.5" y="1595.00">3.</tspan><tspan x="1164.5" y="1602.27">list</tspan><tspan x="1164.5" y="1609.55">dnswl</tspan><tspan x="1164.5" y="1616.82">org</tspan><tspan x="1164.5" y="1624.09">6 hops</tspan></text><text text-anchor="middle" filter="url(#t2)"><tspan x="1174.5" y="1587.73">2@</tspan><tspan x="1174.5" y="1595.00">Y.</tspan><tspan x="1174.5" y="1602.27">list</tspan><tspan x="1174.5" y="1609.55">dnswl</tspan><tspan x="1174.5" y="1616.82">org</tspan><tspan x="1174.5" y="1624.09">4 hops</tspan></text><text text-anchor="middle" filter="url(#t2)"><tspan x="1183.5" y="1587.73">14@</tspan><tspan x="1183.5" y="1595.00">1.</tspan><tspan x="1183.5" y="1602.27">list</tspan><tspan x="1183.5" y="1609.55">dnswl</tspan><tspan x="1183.5" y="1616.82">org</tspan><tspan x="1183.5" y="1624.09">2 hops</tspan></text><text text-anchor="middle" filter="url(#t2)"><tspan x="1193.5" y="1587.73">4@</tspan><tspan x="1193.5" y="1595.00">1.</tspan><tspan x="1193.5" y="1602.27">list</tspan><tspan x="1193.5" y="1609.55">dnswl</tspan><tspan x="1193.5" y="1616.82">org</tspan><tspan x="1193.5" y="1624.09">1 hop</tspan></text><text text-anchor="middle" filter="url(#t2)"><tspan x="1203.5" y="1587.73">4@</tspan><tspan x="1203.5" y="1595.00">2.</tspan><tspan x="1203.5" y="1602.27">list</tspan><tspan x="1203.5" y="1609.55">dnswl</tspan><tspan x="1203.5" y="1616.82">org</tspan><tspan x="1203.5" y="1624.09">origin</tspan></text><text text-anchor="middle" filter="url(#t2)"><tspan x="1213.5" y="1587.73">2@</tspan><tspan x="1213.5" y="1595.00">Y.</tspan><tspan x="1213.5" y="1602.27">list</tspan><tspan x="1213.5" y="1609.55">dnswl</tspan><tspan x="1213.5" y="1616.82">org</tspan><tspan x="1213.5" y="1624.09">4 hops</tspan></text><text text-anchor="middle" filter="url(#t2)"><tspan x="1223.5" y="1587.73">2@</tspan><tspan x="1223.5" y="1595.00">3.</tspan><tspan x="1223.5" y="1602.27">list</tspan><tspan x="1223.5" y="1609.55">dnswl</tspan><tspan x="1223.5" y="1616.82">org</tspan><tspan x="1223.5" y="1624.09">6 hops</tspan></text><text text-anchor="middle" filter="url(#t2)"><tspan x="1233.5" y="1587.73">6@</tspan><tspan x="1233.5" y="1595.00">ips</tspan><tspan x="1233.5" y="1602.27">backscatterer</tspan><tspan x="1233.5" y="1609.55">org</tspan><tspan x="1233.5" y="1616.82">1 hop</tspan></text><text text-anchor="middle" filter="url(#t2)"><tspan x="1243.5" y="1587.73">2@</tspan><tspan x="1243.5" y="1595.00">1.</tspan><tspan x="1243.5" y="1602.27">list</tspan><tspan x="1243.5" y="1609.55">dnswl</tspan><tspan x="1243.5" y="1616.82">org</tspan><tspan x="1243.5" y="1624.09">2 hops</tspan></text><text text-anchor="middle" filter="url(#t2)"><tspan x="1252.5" y="1587.73">4@</tspan><tspan x="1252.5" y="1595.00">1.</tspan><tspan x="1252.5" y="1602.27">list</tspan><tspan x="1252.5" y="1609.55">dnswl</tspan><tspan x="1252.5" y="1616.82">org</tspan><tspan x="1252.5" y="1624.09">origin</tspan></text><text text-anchor="middle" filter="url(#t2)"><tspan x="1262.5" y="1587.73">2@</tspan><tspan x="1262.5" y="1595.00">2.</tspan><tspan x="1262.5" y="1602.27">list</tspan><tspan x="1262.5" y="1609.55">dnswl</tspan><tspan x="1262.5" y="1616.82">org</tspan><tspan x="1262.5" y="1624.09">7 hops</tspan></text><text text-anchor="middle" filter="url(#t2)"><tspan x="1272.5" y="1587.73">4@</tspan><tspan x="1272.5" y="1595.00">3.</tspan><tspan x="1272.5" y="1602.27">list</tspan><tspan x="1272.5" y="1609.55">dnswl</tspan><tspan x="1272.5" y="1616.82">org</tspan><tspan x="1272.5" y="1624.09">1 hop</tspan></text><text text-anchor="middle" filter="url(#t2)"><tspan x="1282.5" y="1587.73">6@</tspan><tspan x="1282.5" y="1595.00">1.</tspan><tspan x="1282.5" y="1602.27">list</tspan><tspan x="1282.5" y="1609.55">dnswl</tspan><tspan x="1282.5" y="1616.82">org</tspan><tspan x="1282.5" y="1624.09">6 hops</tspan></text><text text-anchor="middle" filter="url(#t2)"><tspan x="1292.5" y="1587.73">14@</tspan><tspan x="1292.5" y="1595.00">0.</tspan><tspan x="1292.5" y="1602.27">list</tspan><tspan x="1292.5" y="1609.55">dnswl</tspan><tspan x="1292.5" y="1616.82">org</tspan><tspan x="1292.5" y="1624.09">2 hops</tspan></text><text text-anchor="middle" filter="url(#t2)"><tspan x="1302.5" y="1587.73">4@</tspan><tspan x="1302.5" y="1595.00">2.</tspan><tspan x="1302.5" y="1602.27">list</tspan><tspan x="1302.5" y="1609.55">dnswl</tspan><tspan x="1302.5" y="1616.82">org</tspan><tspan x="1302.5" y="1624.09">1 hop</tspan></text><text text-anchor="middle" filter="url(#t2)"><tspan x="1312.5" y="1587.73">2@</tspan><tspan x="1312.5" y="1595.00">2.</tspan><tspan x="1312.5" y="1602.27">list</tspan><tspan x="1312.5" y="1609.55">dnswl</tspan><tspan x="1312.5" y="1616.82">org</tspan><tspan x="1312.5" y="1624.09">2 hops</tspan></text><text text-anchor="middle" filter="url(#t2)"><tspan x="1321.5" y="1587.73">15@</tspan><tspan x="1321.5" y="1595.00">2.</tspan><tspan x="1321.5" y="1602.27">list</tspan><tspan x="1321.5" y="1609.55">dnswl</tspan><tspan x="1321.5" y="1616.82">org</tspan><tspan x="1321.5" y="1624.09">2 hops</tspan></text><text text-anchor="middle" filter="url(#t2)"><tspan x="1331.5" y="1587.73">11@</tspan><tspan x="1331.5" y="1595.00">2.</tspan><tspan x="1331.5" y="1602.27">list</tspan><tspan x="1331.5" y="1609.55">dnswl</tspan><tspan x="1331.5" y="1616.82">org</tspan><tspan x="1331.5" y="1624.09">6 hops</tspan></text><text text-anchor="middle" filter="url(#t2)"><tspan x="1341.5" y="1587.73">6@</tspan><tspan x="1341.5" y="1595.00">Y.</tspan><tspan x="1341.5" y="1602.27">list</tspan><tspan x="1341.5" y="1609.55">dnswl</tspan><tspan x="1341.5" y="1616.82">org</tspan><tspan x="1341.5" y="1624.09">origin</tspan></text><text text-anchor="middle" filter="url(#t2)"><tspan x="1351.5" y="1587.73">2@</tspan><tspan x="1351.5" y="1595.00">2.</tspan><tspan x="1351.5" y="1602.27">list</tspan><tspan x="1351.5" y="1609.55">dnswl</tspan><tspan x="1351.5" y="1616.82">org</tspan><tspan x="1351.5" y="1624.09">origin</tspan></text><text text-anchor="middle" filter="url(#t2)"><tspan x="1361.5" y="1587.73">13@</tspan><tspan x="1361.5" y="1595.00">3.</tspan><tspan x="1361.5" y="1602.27">list</tspan><tspan x="1361.5" y="1609.55">dnswl</tspan><tspan x="1361.5" y="1616.82">org</tspan><tspan x="1361.5" y="1624.09">3 hops</tspan></text><text text-anchor="middle" filter="url(#t2)"><tspan x="1371.5" y="1587.73">8@</tspan><tspan x="1371.5" y="1595.00">3.</tspan><tspan x="1371.5" y="1602.27">list</tspan><tspan x="1371.5" y="1609.55">dnswl</tspan><tspan x="1371.5" y="1616.82">org</tspan><tspan x="1371.5" y="1624.09">4 hops</tspan></text><text text-anchor="middle" filter="url(#t2)"><tspan x="1381.5" y="1587.73">0@</tspan><tspan x="1381.5" y="1595.00">dnsbl</tspan><tspan x="1381.5" y="1602.27">sorbs</tspan><tspan x="1381.5" y="1609.55">net</tspan><tspan x="1381.5" y="1616.82">2 hops</tspan></text><text text-anchor="middle" filter="url(#t2)"><tspan x="1390.5" y="1587.73">6@</tspan><tspan x="1390.5" y="1595.00">sbl</tspan><tspan x="1390.5" y="1602.27">spamhaus</tspan><tspan x="1390.5" y="1609.55">org</tspan><tspan x="1390.5" y="1616.82">3 hops</tspan></text><text text-anchor="middle" filter="url(#t2)"><tspan x="1400.5" y="1587.73">6@</tspan><tspan x="1400.5" y="1595.00">dnsbl</tspan><tspan x="1400.5" y="1602.27">sorbs</tspan><tspan x="1400.5" y="1609.55">net</tspan><tspan x="1400.5" y="1616.82">origin</tspan></text><text text-anchor="middle" filter="url(#t2)"><tspan x="1410.5" y="1587.73">2@</tspan><tspan x="1410.5" y="1595.00">1.</tspan><tspan x="1410.5" y="1602.27">list</tspan><tspan x="1410.5" y="1609.55">dnswl</tspan><tspan x="1410.5" y="1616.82">org</tspan><tspan x="1410.5" y="1624.09">2 hops</tspan></text><text text-anchor="middle" filter="url(#t2)"><tspan x="1420.5" y="1587.73">2@</tspan><tspan x="1420.5" y="1595.00">1.</tspan><tspan x="1420.5" y="1602.27">list</tspan><tspan x="1420.5" y="1609.55">dnswl</tspan><tspan x="1420.5" y="1616.82">org</tspan><tspan x="1420.5" y="1624.09">1 hop</tspan></text><text text-anchor="middle" filter="url(#t2)"><tspan x="1430.5" y="1587.73">14@</tspan><tspan x="1430.5" y="1595.00">dnsbl</tspan><tspan x="1430.5" y="1602.27">sorbs</tspan><tspan x="1430.5" y="1609.55">net</tspan><tspan x="1430.5" y="1616.82">3 hops</tspan></text><text text-anchor="middle" filter="url(#t2)"><tspan x="1440.5" y="1587.73">11@</tspan><tspan x="1440.5" y="1595.00">2.</tspan><tspan x="1440.5" y="1602.27">list</tspan><tspan x="1440.5" y="1609.55">dnswl</tspan><tspan x="1440.5" y="1616.82">org</tspan><tspan x="1440.5" y="1624.09">2 hops</tspan></text><text text-anchor="middle" filter="url(#t2)"><tspan x="1449.5" y="1587.73">11@</tspan><tspan x="1449.5" y="1595.00">xbl</tspan><tspan x="1449.5" y="1602.27">spamhaus</tspan><tspan x="1449.5" y="1609.55">org</tspan><tspan x="1449.5" y="1616.82">origin</tspan></text><text text-anchor="middle" filter="url(#t2)"><tspan x="1459.5" y="1587.73">6@</tspan><tspan x="1459.5" y="1595.00">dnsbl</tspan><tspan x="1459.5" y="1602.27">sorbs</tspan><tspan x="1459.5" y="1609.55">net</tspan><tspan x="1459.5" y="1616.82">6 hops</tspan></text><text text-anchor="middle" filter="url(#t2)"><tspan x="1469.5" y="1587.73">5@</tspan><tspan x="1469.5" y="1595.00">Y.</tspan><tspan x="1469.5" y="1602.27">list</tspan><tspan x="1469.5" y="1609.55">dnswl</tspan><tspan x="1469.5" y="1616.82">org</tspan><tspan x="1469.5" y="1624.09">3 hops</tspan></text><text text-anchor="middle" filter="url(#t2)"><tspan x="1479.5" y="1587.73">2@</tspan><tspan x="1479.5" y="1595.00">1.</tspan><tspan x="1479.5" y="1602.27">list</tspan><tspan x="1479.5" y="1609.55">dnswl</tspan><tspan x="1479.5" y="1616.82">org</tspan><tspan x="1479.5" y="1624.09">3 hops</tspan></text><text text-anchor="middle" filter="url(#t2)"><tspan x="1489.5" y="1587.73">13@</tspan><tspan x="1489.5" y="1595.00">2.</tspan><tspan x="1489.5" y="1602.27">list</tspan><tspan x="1489.5" y="1609.55">dnswl</tspan><tspan x="1489.5" y="1616.82">org</tspan><tspan x="1489.5" y="1624.09">2 hops</tspan></text><text text-anchor="middle" filter="url(#t2)"><tspan x="1499.5" y="1587.73">0@</tspan><tspan x="1499.5" y="1595.00">zen</tspan><tspan x="1499.5" y="1602.27">spamhaus</tspan><tspan x="1499.5" y="1609.55">org</tspan><tspan x="1499.5" y="1616.82">origin</tspan></text><text text-anchor="middle" filter="url(#t2)"><tspan x="1509.5" y="1587.73">2@</tspan><tspan x="1509.5" y="1595.00">pbl</tspan><tspan x="1509.5" y="1602.27">spamhaus</tspan><tspan x="1509.5" y="1609.55">org</tspan><tspan x="1509.5" y="1616.82">2 hops</tspan></text><text text-anchor="middle" filter="url(#t2)"><tspan x="1518.5" y="1587.73">9@</tspan><tspan x="1518.5" y="1595.00">Y.</tspan><tspan x="1518.5" y="1602.27">list</tspan><tspan x="1518.5" y="1609.55">dnswl</tspan><tspan x="1518.5" y="1616.82">org</tspan><tspan x="1518.5" y="1624.09">origin</tspan></text><text text-anchor="middle" filter="url(#t2)"><tspan x="1528.5" y="1587.73">15@</tspan><tspan x="1528.5" y="1595.00">old</tspan><tspan x="1528.5" y="1602.27">dnsbl</tspan><tspan x="1528.5" y="1609.55">sorbs</tspan><tspan x="1528.5" y="1616.82">net</tspan><tspan x="1528.5" y="1624.09">3 hops</tspan></text><text text-anchor="middle" filter="url(#t2)"><tspan x="1538.5" y="1587.73">8@</tspan><tspan x="1538.5" y="1595.00">1.</tspan><tspan x="1538.5" y="1602.27">list</tspan><tspan x="1538.5" y="1609.55">dnswl</tspan><tspan x="1538.5" y="1616.82">org</tspan><tspan x="1538.5" y="1624.09">7 hops</tspan></text><text text-anchor="middle" filter="url(#t2)"><tspan x="1548.5" y="1587.73">13@</tspan><tspan x="1548.5" y="1595.00">safe</tspan><tspan x="1548.5" y="1602.27">dnsbl</tspan><tspan x="1548.5" y="1609.55">sorbs</tspan><tspan x="1548.5" y="1616.82">net</tspan><tspan x="1548.5" y="1624.09">2 hops</tspan></text><text text-anchor="middle" filter="url(#t2)"><tspan x="1558.5" y="1587.73">2@</tspan><tspan x="1558.5" y="1595.00">1.</tspan><tspan x="1558.5" y="1602.27">list</tspan><tspan x="1558.5" y="1609.55">dnswl</tspan><tspan x="1558.5" y="1616.82">org</tspan><tspan x="1558.5" y="1624.09">6 hops</tspan></text><text text-anchor="middle" filter="url(#t2)"><tspan x="1568.5" y="1587.73">0@</tspan><tspan x="1568.5" y="1595.00">0.</tspan><tspan x="1568.5" y="1602.27">list</tspan><tspan x="1568.5" y="1609.55">dnswl</tspan><tspan x="1568.5" y="1616.82">org</tspan><tspan x="1568.5" y="1624.09">6 hops</tspan></text><text text-anchor="middle" filter="url(#t2)"><tspan x="1578.5" y="1587.73">2@</tspan><tspan x="1578.5" y="1595.00">zen</tspan><tspan x="1578.5" y="1602.27">spamhaus</tspan><tspan x="1578.5" y="1609.55">org</tspan><tspan x="1578.5" y="1616.82">origin</tspan></text><text text-anchor="middle" filter="url(#t2)"><tspan x="1587.5" y="1587.73">15@</tspan><tspan x="1587.5" y="1595.00">1.</tspan><tspan x="1587.5" y="1602.27">list</tspan><tspan x="1587.5" y="1609.55">dnswl</tspan><tspan x="1587.5" y="1616.82">org</tspan><tspan x="1587.5" y="1624.09">3 hops</tspan></text><text text-anchor="middle" filter="url(#t2)"><tspan x="1597.5" y="1587.73">11@</tspan><tspan x="1597.5" y="1595.00">dnsbl</tspan><tspan x="1597.5" y="1602.27">sorbs</tspan><tspan x="1597.5" y="1609.55">net</tspan><tspan x="1597.5" y="1616.82">6 hops</tspan></text><text text-anchor="middle" filter="url(#t2)"><tspan x="1607.5" y="1587.73">13@</tspan><tspan x="1607.5" y="1595.00">zen</tspan><tspan x="1607.5" y="1602.27">spamhaus</tspan><tspan x="1607.5" y="1609.55">org</tspan><tspan x="1607.5" y="1616.82">2 hops</tspan></text><text text-anchor="middle" filter="url(#t2)"><tspan x="1617.5" y="1587.73">2@</tspan><tspan x="1617.5" y="1595.00">bl</tspan><tspan x="1617.5" y="1602.27">spamcop</tspan><tspan x="1617.5" y="1609.55">net</tspan><tspan x="1617.5" y="1616.82">6 hops</tspan></text><text text-anchor="middle" filter="url(#t2)"><tspan x="1627.5" y="1587.73">8@</tspan><tspan x="1627.5" y="1595.00">1.</tspan><tspan x="1627.5" y="1602.27">list</tspan><tspan x="1627.5" y="1609.55">dnswl</tspan><tspan x="1627.5" y="1616.82">org</tspan><tspan x="1627.5" y="1624.09">6 hops</tspan></text><text text-anchor="middle" filter="url(#t2)"><tspan x="1637.5" y="1587.73">4@</tspan><tspan x="1637.5" y="1595.00">ips</tspan><tspan x="1637.5" y="1602.27">backscatterer</tspan><tspan x="1637.5" y="1609.55">org</tspan><tspan x="1637.5" y="1616.82">1 hop</tspan></text><text text-anchor="middle" filter="url(#t2)"><tspan x="1647.5" y="1587.73">4@</tspan><tspan x="1647.5" y="1595.00">sbl</tspan><tspan x="1647.5" y="1602.27">spamhaus</tspan><tspan x="1647.5" y="1609.55">org</tspan><tspan x="1647.5" y="1616.82">3 hops</tspan></text><text text-anchor="middle" filter="url(#t2)"><tspan x="1656.5" y="1587.73">13@</tspan><tspan x="1656.5" y="1595.00">bl</tspan><tspan x="1656.5" y="1602.27">spamcop</tspan><tspan x="1656.5" y="1609.55">net</tspan><tspan x="1656.5" y="1616.82">4 hops</tspan></text><text text-anchor="middle" filter="url(#t2)"><tspan x="1666.5" y="1587.73">13@</tspan><tspan x="1666.5" y="1595.00">0.</tspan><tspan x="1666.5" y="1602.27">list</tspan><tspan x="1666.5" y="1609.55">dnswl</tspan><tspan x="1666.5" y="1616.82">org</tspan><tspan x="1666.5" y="1624.09">2 hops</tspan></text><text text-anchor="middle" filter="url(#t2)"><tspan x="1676.5" y="1587.73">2@</tspan><tspan x="1676.5" y="1595.00">sbl</tspan><tspan x="1676.5" y="1602.27">spamhaus</tspan><tspan x="1676.5" y="1609.55">org</tspan><tspan x="1676.5" y="1616.82">7 hops</tspan></text><text text-anchor="middle" filter="url(#t2)"><tspan x="1686.5" y="1587.73">4@</tspan><tspan x="1686.5" y="1595.00">dnsbl</tspan><tspan x="1686.5" y="1602.27">sorbs</tspan><tspan x="1686.5" y="1609.55">net</tspan><tspan x="1686.5" y="1616.82">2 hops</tspan></text><text text-anchor="middle" filter="url(#t2)"><tspan x="1696.5" y="1587.73">2@</tspan><tspan x="1696.5" y="1595.00">0.</tspan><tspan x="1696.5" y="1602.27">list</tspan><tspan x="1696.5" y="1609.55">dnswl</tspan><tspan x="1696.5" y="1616.82">org</tspan><tspan x="1696.5" y="1624.09">5 hops</tspan></text><text text-anchor="middle" filter="url(#t2)"><tspan x="1706.5" y="1587.73">4@</tspan><tspan x="1706.5" y="1595.00">ips</tspan><tspan x="1706.5" y="1602.27">backscatterer</tspan><tspan x="1706.5" y="1609.55">org</tspan><tspan x="1706.5" y="1616.82">1 hop</tspan></text><text text-anchor="middle" filter="url(#t2)"><tspan x="1716.5" y="1587.73">8@</tspan><tspan x="1716.5" y="1595.00">xbl</tspan><tspan x="1716.5" y="1602.27">spamhaus</tspan><tspan x="1716.5" y="1609.55">org</tspan><tspan x="1716.5" y="1616.82">5 hops</tspan></text><text text-anchor="middle" filter="url(#t2)"><tspan x="1725.5" y="1587.73">11@</tspan><tspan x="1725.5" y="1595.00">dnsbl</tspan><tspan x="1725.5" y="1602.27">sorbs</tspan><tspan x="1725.5" y="1609.55">net</tspan><tspan x="1725.5" y="1616.82">5 hops</tspan></text><text text-anchor="middle" filter="url(#t2)"><tspan x="1735.5" y="1587.73">1@</tspan><tspan x="1735.5" y="1595.00">Y.</tspan><tspan x="1735.5" y="1602.27">list</tspan><tspan x="1735.5" y="1609.55">dnswl</tspan><tspan x="1735.5" y="1616.82">org</tspan><tspan x="1735.5" y="1624.09">3 hops</tspan></text><text text-anchor="middle" filter="url(#t2)"><tspan x="1745.5" y="1587.73">13@</tspan><tspan x="1745.5" y="1595.00">Y.</tspan><tspan x="1745.5" y="1602.27">list</tspan><tspan x="1745.5" y="1609.55">dnswl</tspan><tspan x="1745.5" y="1616.82">org</tspan><tspan x="1745.5" y="1624.09">origin</tspan></text><text text-anchor="middle" filter="url(#t2)"><tspan x="1755.5" y="1587.73">2@</tspan><tspan x="1755.5" y="1595.00">bl</tspan><tspan x="1755.5" y="1602.27">spamcop</tspan><tspan x="1755.5" y="1609.55">net</tspan><tspan x="1755.5" y="1616.82">6 hops</tspan></text><text text-anchor="middle" filter="url(#t2)"><tspan x="1765.5" y="1587.73">4@</tspan><tspan x="1765.5" y="1595.00">bl</tspan><tspan x="1765.5" y="1602.27">spamcop</tspan><tspan x="1765.5" y="1609.55">net</tspan><tspan x="1765.5" y="1616.82">4 hops</tspan></text><text text-anchor="middle" filter="url(#t2)"><tspan x="1775.5" y="1587.73">3@</tspan><tspan x="1775.5" y="1595.00">zen</tspan><tspan x="1775.5" y="1602.27">spamhaus</tspan><tspan x="1775.5" y="1609.55">org</tspan><tspan x="1775.5" y="1616.82">1 hop</tspan></text><text text-anchor="middle" filter="url(#t2)"><tspan x="1785.5" y="1587.73">0@</tspan><tspan x="1785.5" y="1595.00">Y.</tspan><tspan x="1785.5" y="1602.27">list</tspan><tspan x="1785.5" y="1609.55">dnswl</tspan><tspan x="1785.5" y="1616.82">org</tspan><tspan x="1785.5" y="1624.09">2 hops</tspan></text><text text-anchor="middle" filter="url(#t2)"><tspan x="1794.5" y="1587.73">14@</tspan><tspan x="1794.5" y="1595.00">Y.</tspan><tspan x="1794.5" y="1602.27">list</tspan><tspan x="1794.5" y="1609.55">dnswl</tspan><tspan x="1794.5" y="1616.82">org</tspan><tspan x="1794.5" y="1624.09">6 hops</tspan></text><text text-anchor="middle" filter="url(#t2)"><tspan x="1804.5" y="1587.73">6@</tspan><tspan x="1804.5" y="1595.00">3.</tspan><tspan x="1804.5" y="1602.27">list</tspan><tspan x="1804.5" y="1609.55">dnswl</tspan><tspan x="1804.5" y="1616.82">org</tspan><tspan x="1804.5" y="1624.09">3 hops</tspan></text><text text-anchor="middle" filter="url(#t2)"><tspan x="1814.5" y="1587.73">9@</tspan><tspan x="1814.5" y="1595.00">ips</tspan><tspan x="1814.5" y="1602.27">backscatterer</tspan><tspan x="1814.5" y="1609.55">org</tspan><tspan x="1814.5" y="1616.82">origin</tspan></text><text text-anchor="middle" filter="url(#t2)"><tspan x="1824.5" y="1587.73">2@</tspan><tspan x="1824.5" y="1595.00">3.</tspan><tspan x="1824.5" y="1602.27">list</tspan><tspan x="1824.5" y="1609.55">dnswl</tspan><tspan x="1824.5" y="1616.82">org</tspan><tspan x="1824.5" y="1624.09">5 hops</tspan></text><text text-anchor="middle" filter="url(#t2)"><tspan x="1834.5" y="1587.73">5@</tspan><tspan x="1834.5" y="1595.00">dnsbl</tspan><tspan x="1834.5" y="1602.27">sorbs</tspan><tspan x="1834.5" y="1609.55">net</tspan><tspan x="1834.5" y="1616.82">2 hops</tspan></text><text text-anchor="middle" filter="url(#t2)"><tspan x="1844.5" y="1587.73">6@</tspan><tspan x="1844.5" y="1595.00">dnsbl</tspan><tspan x="1844.5" y="1602.27">sorbs</tspan><tspan x="1844.5" y="1609.55">net</tspan><tspan x="1844.5" y="1616.82">1 hop</tspan></text><text text-anchor="middle" filter="url(#t2)"><tspan x="1854.5" y="1587.73">6@</tspan><tspan x="1854.5" y="1595.00">1.</tspan><tspan x="1854.5" y="1602.27">list</tspan><tspan x="1854.5" y="1609.55">dnswl</tspan><tspan x="1854.5" y="1616.82">org</tspan><tspan x="1854.5" y="1624.09">3 hops</tspan></text><text text-anchor="middle" filter="url(#t2)"><tspan x="1863.5" y="1587.73">3@</tspan><tspan x="1863.5" y="1595.00">Y.</tspan><tspan x="1863.5" y="1602.27">list</tspan><tspan x="1863.5" y="1609.55">dnswl</tspan><tspan x="1863.5" y="1616.82">org</tspan><tspan x="1863.5" y="1624.09">origin</tspan></text><text text-anchor="middle" filter="url(#t2)"><tspan x="1873.5" y="1587.73">6@</tspan><tspan x="1873.5" y="1595.00">pbl</tspan><tspan x="1873.5" y="1602.27">spamhaus</tspan><tspan x="1873.5" y="1609.55">org</tspan><tspan x="1873.5" y="1616.82">1 hop</tspan></text><text text-anchor="middle" filter="url(#t2)"><tspan x="1883.5" y="1587.73">10@</tspan><tspan x="1883.5" y="1595.00">dnsbl</tspan><tspan x="1883.5" y="1602.27">sorbs</tspan><tspan x="1883.5" y="1609.55">net</tspan><tspan x="1883.5" y="1616.82">1 hop</tspan></text><text text-anchor="middle" filter="url(#t2)"><tspan x="1893.5" y="1587.73">4@</tspan><tspan x="1893.5" y="1595.00">psbl</tspan><tspan x="1893.5" y="1602.27">surriel</tspan><tspan x="1893.5" y="1609.55">com</tspan><tspan x="1893.5" y="1616.82">origin</tspan></text><text text-anchor="middle" filter="url(#t2)"><tspan x="1903.5" y="1587.73">2@</tspan><tspan x="1903.5" y="1595.00">xbl</tspan><tspan x="1903.5" y="1602.27">spamhaus</tspan><tspan x="1903.5" y="1609.55">org</tspan><tspan x="1903.5" y="1616.82">origin</tspan></text><text text-anchor="middle" filter="url(#t2)"><tspan x="1913.5" y="1587.73">4@</tspan><tspan x="1913.5" y="1595.00">1.</tspan><tspan x="1913.5" y="1602.27">list</tspan><tspan x="1913.5" y="1609.55">dnswl</tspan><tspan x="1913.5" y="1616.82">org</tspan><tspan x="1913.5" y="1624.09">2 hops</tspan></text><text text-anchor="middle" filter="url(#t2)"><tspan x="1923.5" y="1587.73">3@</tspan><tspan x="1923.5" y="1595.00">dnsbl</tspan><tspan x="1923.5" y="1602.27">sorbs</tspan><tspan x="1923.5" y="1609.55">net</tspan><tspan x="1923.5" y="1616.82">3 hops</tspan></text><text text-anchor="middle" filter="url(#t2)"><tspan x="1932.5" y="1587.73">2@</tspan><tspan x="1932.5" y="1595.00">psbl</tspan><tspan x="1932.5" y="1602.27">surriel</tspan><tspan x="1932.5" y="1609.55">com</tspan><tspan x="1932.5" y="1616.82">4 hops</tspan></text><text text-anchor="middle" filter="url(#t2)"><tspan x="1942.5" y="1587.73">2@</tspan><tspan x="1942.5" y="1595.00">pbl</tspan><tspan x="1942.5" y="1602.27">spamhaus</tspan><tspan x="1942.5" y="1609.55">org</tspan><tspan x="1942.5" y="1616.82">origin</tspan></text><text text-anchor="middle" filter="url(#t2)"><tspan x="1952.5" y="1587.73">14@</tspan><tspan x="1952.5" y="1595.00">bl</tspan><tspan x="1952.5" y="1602.27">spamcop</tspan><tspan x="1952.5" y="1609.55">net</tspan><tspan x="1952.5" y="1616.82">2 hops</tspan></text><text text-anchor="middle" filter="url(#t2)"><tspan x="1962.5" y="1587.73">13@</tspan><tspan x="1962.5" y="1595.00">dnsbl</tspan><tspan x="1962.5" y="1602.27">sorbs</tspan><tspan x="1962.5" y="1609.55">net</tspan><tspan x="1962.5" y="1616.82">origin</tspan></text><text text-anchor="middle" filter="url(#t2)"><tspan x="1972.5" y="1587.73">3@</tspan><tspan x="1972.5" y="1595.00">1.</tspan><tspan x="1972.5" y="1602.27">list</tspan><tspan x="1972.5" y="1609.55">dnswl</tspan><tspan x="1972.5" y="1616.82">org</tspan><tspan x="1972.5" y="1624.09">5 hops</tspan></text><text text-anchor="middle" filter="url(#t2)"><tspan x="1982.5" y="1587.73">5@</tspan><tspan x="1982.5" y="1595.00">socks</tspan><tspan x="1982.5" y="1602.27">dnsbl</tspan><tspan x="1982.5" y="1609.55">sorbs</tspan><tspan x="1982.5" y="1616.82">net</tspan><tspan x="1982.5" y="1624.09">2 hops</tspan></text><text text-anchor="middle" filter="url(#t2)"><tspan x="1992.5" y="1587.73">9@</tspan><tspan x="1992.5" y="1595.00">xbl</tspan><tspan x="1992.5" y="1602.27">spamhaus</tspan><tspan x="1992.5" y="1609.55">org</tspan><tspan x="1992.5" y="1616.82">3 hops</tspan></text><text text-anchor="middle" filter="url(#t2)"><tspan x="2001.5" y="1587.73">1@</tspan><tspan x="2001.5" y="1595.00">ips</tspan><tspan x="2001.5" y="1602.27">backscatterer</tspan><tspan x="2001.5" y="1609.55">org</tspan><tspan x="2001.5" y="1616.82">4 hops</tspan></text><text text-anchor="middle" filter="url(#t2)"><tspan x="2011.5" y="1587.73">3@</tspan><tspan x="2011.5" y="1595.00">1.</tspan><tspan x="2011.5" y="1602.27">list</tspan><tspan x="2011.5" y="1609.55">dnswl</tspan><tspan x="2011.5" y="1616.82">org</tspan><tspan x="2011.5" y="1624.09">2 hops</tspan></text><text text-anchor="middle" filter="url(#t2)"><tspan x="2021.5" y="1587.73">0@</tspan><tspan x="2021.5" y="1595.00">sbl</tspan><tspan x="2021.5" y="1602.27">spamhaus</tspan><tspan x="2021.5" y="1609.55">org</tspan><tspan x="2021.5" y="1616.82">5 hops</tspan></text><text text-anchor="middle" filter="url(#t2)"><tspan x="2031.5" y="1587.73">6@</tspan><tspan x="2031.5" y="1595.00">bl</tspan><tspan x="2031.5" y="1602.27">spamcop</tspan><tspan x="2031.5" y="1609.55">net</tspan><tspan x="2031.5" y="1616.82">5 hops</tspan></text><text text-anchor="middle" filter="url(#t2)"><tspan x="2041.5" y="1587.73">2@</tspan><tspan x="2041.5" y="1595.00">psbl</tspan><tspan x="2041.5" y="1602.27">surriel</tspan><tspan x="2041.5" y="1609.55">com</tspan><tspan x="2041.5" y="1616.82">6 hops</tspan></text><text text-anchor="middle" filter="url(#t2)"><tspan x="2051.5" y="1587.73">4@</tspan><tspan x="2051.5" y="1595.00">sbl</tspan><tspan x="2051.5" y="1602.27">spamhaus</tspan><tspan x="2051.5" y="1609.55">org</tspan><tspan x="2051.5" y="1616.82">1 hop</tspan></text><text text-anchor="middle" filter="url(#t2)"><tspan x="2060.5" y="1587.73">1@</tspan><tspan x="2060.5" y="1595.00">dnsbl</tspan><tspan x="2060.5" y="1602.27">sorbs</tspan><tspan x="2060.5" y="1609.55">net</tspan><tspan x="2060.5" y="1616.82">1 hop</tspan></text><text text-anchor="middle" filter="url(#t2)"><tspan x="2070.5" y="1587.73">4@</tspan><tspan x="2070.5" y="1595.00">dnsbl</tspan><tspan x="2070.5" y="1602.27">sorbs</tspan><tspan x="2070.5" y="1609.55">net</tspan><tspan x="2070.5" y="1616.82">7 hops</tspan></text><text text-anchor="middle" filter="url(#t2)"><tspan x="2080.5" y="1587.73">9@</tspan><tspan x="2080.5" y="1595.00">psbl</tspan><tspan x="2080.5" y="1602.27">surriel</tspan><tspan x="2080.5" y="1609.55">com</tspan><tspan x="2080.5" y="1616.82">4 hops</tspan></text><text text-anchor="middle" filter="url(#t2)"><tspan x="2090.5" y="1587.73">9@</tspan><tspan x="2090.5" y="1595.00">xbl</tspan><tspan x="2090.5" y="1602.27">spamhaus</tspan><tspan x="2090.5" y="1609.55">org</tspan><tspan x="2090.5" y="1616.82">2 hops</tspan></text><text text-anchor="middle" filter="url(#t2)"><tspan x="2100.5" y="1587.73">13@</tspan><tspan x="2100.5" y="1595.00">Y.</tspan><tspan x="2100.5" y="1602.27">list</tspan><tspan x="2100.5" y="1609.55">dnswl</tspan><tspan x="2100.5" y="1616.82">org</tspan><tspan x="2100.5" y="1624.09">2 hops</tspan></text><text text-anchor="middle" filter="url(#t2)"><tspan x="2110.5" y="1587.73">8@</tspan><tspan x="2110.5" y="1595.00">2.</tspan><tspan x="2110.5" y="1602.27">list</tspan><tspan x="2110.5" y="1609.55">dnswl</tspan><tspan x="2110.5" y="1616.82">org</tspan><tspan x="2110.5" y="1624.09">6 hops</tspan></text><text text-anchor="middle" filter="url(#t2)"><tspan x="2120.5" y="1587.73">4@</tspan><tspan x="2120.5" y="1595.00">1.</tspan><tspan x="2120.5" y="1602.27">list</tspan><tspan x="2120.5" y="1609.55">dnswl</tspan><tspan x="2120.5" y="1616.82">org</tspan><tspan x="2120.5" y="1624.09">3 hops</tspan></text><text text-anchor="middle" filter="url(#t2)"><tspan x="2129.5" y="1587.73">15@</tspan><tspan x="2129.5" y="1595.00">dnsbl</tspan><tspan x="2129.5" y="1602.27">sorbs</tspan><tspan x="2129.5" y="1609.55">net</tspan><tspan x="2129.5" y="1616.82">5 hops</tspan></text><text text-anchor="middle" filter="url(#t2)"><tspan x="2139.5" y="1587.73">2@</tspan><tspan x="2139.5" y="1595.00">socks</tspan><tspan x="2139.5" y="1602.27">dnsbl</tspan><tspan x="2139.5" y="1609.55">sorbs</tspan><tspan x="2139.5" y="1616.82">net</tspan><tspan x="2139.5" y="1624.09">2 hops</tspan></text><text text-anchor="middle" filter="url(#t2)"><tspan x="2149.5" y="1587.73">10@</tspan><tspan x="2149.5" y="1595.00">ips</tspan><tspan x="2149.5" y="1602.27">backscatterer</tspan><tspan x="2149.5" y="1609.55">org</tspan><tspan x="2149.5" y="1616.82">5 hops</tspan></text><text text-anchor="middle" filter="url(#t2)"><tspan x="2159.5" y="1587.73">2@</tspan><tspan x="2159.5" y="1595.00">3.</tspan><tspan x="2159.5" y="1602.27">list</tspan><tspan x="2159.5" y="1609.55">dnswl</tspan><tspan x="2159.5" y="1616.82">org</tspan><tspan x="2159.5" y="1624.09">4 hops</tspan></text><text text-anchor="middle" filter="url(#t2)"><tspan x="2169.5" y="1587.73">4@</tspan><tspan x="2169.5" y="1595.00">bl</tspan><tspan x="2169.5" y="1602.27">spamcop</tspan><tspan x="2169.5" y="1609.55">net</tspan><tspan x="2169.5" y="1616.82">1 hop</tspan></text><text text-anchor="middle" filter="url(#t2)"><tspan x="2179.5" y="1587.73">2@</tspan><tspan x="2179.5" y="1595.00">zen</tspan><tspan x="2179.5" y="1602.27">spamhaus</tspan><tspan x="2179.5" y="1609.55">org</tspan><tspan x="2179.5" y="1616.82">2 hops</tspan></text><text text-anchor="middle" filter="url(#t2)"><tspan x="2189.5" y="1587.73">2@</tspan><tspan x="2189.5" y="1595.00">bl</tspan><tspan x="2189.5" y="1602.27">spamcop</tspan><tspan x="2189.5" y="1609.55">net</tspan><tspan x="2189.5" y="1616.82">6 hops</tspan></text><text text-anchor="middle" filter="url(#t2)"><tspan x="2198.5" y="1587.73">2@</tspan><tspan x="2198.5" y="1595.00">2.</tspan><tspan x="2198.5" y="1602.27">list</tspan><tspan x="2198.5" y="1609.55">dnswl</tspan><tspan x="2198.5" y="1616.82">org</tspan><tspan x="2198.5" y="1624.09">2 hops</tspan></text><text text-anchor="middle" filter="url(#t2)"><tspan x="2208.5" y="1587.73">15@</tspan><tspan x="2208.5" y="1595.00">2.</tspan><tspan x="2208.5" y="1602.27">list</tspan><tspan x="2208.5" y="1609.55">dnswl</tspan><tspan x="2208.5" y="1616.82">org</tspan><tspan x="2208.5" y="1624.09">2 hops</tspan></text><text text-anchor="middle" filter="url(#t2)"><tspan x="2218.5" y="1587.73">0@</tspan><tspan x="2218.5" y="1595.00">zen</tspan><tspan x="2218.5" y="1602.27">spamhaus</tspan><tspan x="2218.5" y="1609.55">org</tspan><tspan x="2218.5" y="1616.82">4 hops</tspan></text><text text-anchor="middle" filter="url(#t2)"><tspan x="2228.5" y="1587.73">2@</tspan><tspan x="2228.5" y="1595.00">2.</tspan><tspan x="2228.5" y="1602.27">list</tspan><tspan x="2228.5" y="1609.55">dnswl</tspan><tspan x="2228.5" y="1616.82">org</tspan><tspan x="2228.5" y="1624.09">2 hops</tspan></text><text text-anchor="middle" filter="url(#t2)"><tspan x="2238.5" y="1587.73">4@</tspan><tspan x="2238.5" y="1595.00">dnsbl</tspan><tspan x="2238.5" y="1602.27">sorbs</tspan><tspan x="2238.5" y="1609.55">net</tspan><tspan x="2238.5" y="1616.82">3 hops</tspan></text><text text-anchor="middle" filter="url(#t2)"><tspan x="2248.5" y="1587.73">2@</tspan><tspan x="2248.5" y="1595.00">Y.</tspan><tspan x="2248.5" y="1602.27">list</tspan><tspan x="2248.5" y="1609.55">dnswl</tspan><tspan x="2248.5" y="1616.82">org</tspan><tspan x="2248.5" y="1624.09">6 hops</tspan></text><text text-anchor="middle" filter="url(#t2)"><tspan x="2258.5" y="1587.73">4@</tspan><tspan x="2258.5" y="1595.00">2.</tspan><tspan x="2258.5" y="1602.27">list</tspan><tspan x="2258.5" y="1609.55">dnswl</tspan><tspan x="2258.5" y="1616.82">org</tspan><tspan x="2258.5" y="1624.09">3 hops</tspan></text><text text-anchor="middle" filter="url(#t2)"><tspan x="2267.5" y="1587.73">0@</tspan><tspan x="2267.5" y="1595.00">2.</tspan><tspan x="2267.5" y="1602.27">list</tspan><tspan x="2267.5" y="1609.55">dnswl</tspan><tspan x="2267.5" y="1616.82">org</tspan><tspan x="2267.5" y="1624.09">3 hops</tspan></text><text text-anchor="middle" filter="url(#t2)"><tspan x="2277.5" y="1587.73">9@</tspan><tspan x="2277.5" y="1595.00">0.</tspan><tspan x="2277.5" y="1602.27">list</tspan><tspan x="2277.5" y="1609.55">dnswl</tspan><tspan x="2277.5" y="1616.82">org</tspan><tspan x="2277.5" y="1624.09">2 hops</tspan></text><text text-anchor="middle" filter="url(#t2)"><tspan x="2287.5" y="1587.73">3@</tspan><tspan x="2287.5" y="1595.00">1.</tspan><tspan x="2287.5" y="1602.27">list</tspan><tspan x="2287.5" y="1609.55">dnswl</tspan><tspan x="2287.5" y="1616.82">org</tspan><tspan x="2287.5" y="1624.09">5 hops</tspan></text><text text-anchor="middle" filter="url(#t2)"><tspan x="2297.5" y="1587.73">4@</tspan><tspan x="2297.5" y="1595.00">1.</tspan><tspan x="2297.5" y="1602.27">list</tspan><tspan x="2297.5" y="1609.55">dnswl</tspan><tspan x="2297.5" y="1616.82">org</tspan><tspan x="2297.5" y="1624.09">3 hops</tspan></text><text text-anchor="middle" filter="url(#t2)"><tspan x="2307.5" y="1587.73">4@</tspan><tspan x="2307.5" y="1595.00">0.</tspan><tspan x="2307.5" y="1602.27">list</tspan><tspan x="2307.5" y="1609.55">dnswl</tspan><tspan x="2307.5" y="1616.82">org</tspan><tspan x="2307.5" y="1624.09">5 hops</tspan></text><text text-anchor="middle" filter="url(#t2)"><tspan x="2317.5" y="1587.73">6@</tspan><tspan x="2317.5" y="1595.00">dnsbl</tspan><tspan x="2317.5" y="1602.27">sorbs</tspan><tspan x="2317.5" y="1609.55">net</tspan><tspan x="2317.5" y="1616.82">4 hops</tspan></text><text text-anchor="middle" filter="url(#t2)"><tspan x="2327.5" y="1587.73">3@</tspan><tspan x="2327.5" y="1595.00">Y.</tspan><tspan x="2327.5" y="1602.27">list</tspan><tspan x="2327.5" y="1609.55">dnswl</tspan><tspan x="2327.5" y="1616.82">org</tspan><tspan x="2327.5" y="1624.09">origin</tspan></text><text text-anchor="middle" filter="url(#t2)"><tspan x="2336.5" y="1587.73">0@</tspan><tspan x="2336.5" y="1595.00">smtp</tspan><tspan x="2336.5" y="1602.27">dnsbl</tspan><tspan x="2336.5" y="1609.55">sorbs</tspan><tspan x="2336.5" y="1616.82">net</tspan><tspan x="2336.5" y="1624.09">1 hop</tspan></text><text text-anchor="middle" filter="url(#t2)"><tspan x="2346.5" y="1587.73">3@</tspan><tspan x="2346.5" y="1595.00">3.</tspan><tspan x="2346.5" y="1602.27">list</tspan><tspan x="2346.5" y="1609.55">dnswl</tspan><tspan x="2346.5" y="1616.82">org</tspan><tspan x="2346.5" y="1624.09">3 hops</tspan></text><text text-anchor="middle" filter="url(#t2)"><tspan x="2356.5" y="1587.73">4@</tspan><tspan x="2356.5" y="1595.00">1.</tspan><tspan x="2356.5" y="1602.27">list</tspan><tspan x="2356.5" y="1609.55">dnswl</tspan><tspan x="2356.5" y="1616.82">org</tspan><tspan x="2356.5" y="1624.09">2 hops</tspan></text><text text-anchor="middle" filter="url(#t2)"><tspan x="2366.5" y="1587.73">13@</tspan><tspan x="2366.5" y="1595.00">2.</tspan><tspan x="2366.5" y="1602.27">list</tspan><tspan x="2366.5" y="1609.55">dnswl</tspan><tspan x="2366.5" y="1616.82">org</tspan><tspan x="2366.5" y="1624.09">7 hops</tspan></text><text text-anchor="middle" filter="url(#t2)"><tspan x="2376.5" y="1587.73">13@</tspan><tspan x="2376.5" y="1595.00">0.</tspan><tspan x="2376.5" y="1602.27">list</tspan><tspan x="2376.5" y="1609.55">dnswl</tspan><tspan x="2376.5" y="1616.82">org</tspan><tspan x="2376.5" y="1624.09">4 hops</tspan></text><text text-anchor="middle" filter="url(#t2)"><tspan x="2386.5" y="1587.73">2@</tspan><tspan x="2386.5" y="1595.00">0.</tspan><tspan x="2386.5" y="1602.27">list</tspan><tspan x="2386.5" y="1609.55">dnswl</tspan><tspan x="2386.5" y="1616.82">org</tspan><tspan x="2386.5" y="1624.09">4 hops</tspan></text><text text-anchor="middle" filter="url(#t2)"><tspan x="2396.5" y="1587.73">2@</tspan><tspan x="2396.5" y="1595.00">2.</tspan><tspan x="2396.5" y="1602.27">list</tspan><tspan x="2396.5" y="1609.55">dnswl</tspan><tspan x="2396.5" y="1616.82">org</tspan><tspan x="2396.5" y="1624.09">7 hops</tspan></text><text text-anchor="middle" filter="url(#t2)"><tspan x="2405.5" y="1587.73">2@</tspan><tspan x="2405.5" y="1595.00">2.</tspan><tspan x="2405.5" y="1602.27">list</tspan><tspan x="2405.5" y="1609.55">dnswl</tspan><tspan x="2405.5" y="1616.82">org</tspan><tspan x="2405.5" y="1624.09">origin</tspan></text><text text-anchor="middle" filter="url(#t2)"><tspan x="2415.5" y="1587.73">11@</tspan><tspan x="2415.5" y="1595.00">1.</tspan><tspan x="2415.5" y="1602.27">list</tspan><tspan x="2415.5" y="1609.55">dnswl</tspan><tspan x="2415.5" y="1616.82">org</tspan><tspan x="2415.5" y="1624.09">3 hops</tspan></text><text text-anchor="middle" filter="url(#t2)"><tspan x="2425.5" y="1587.73">3@</tspan><tspan x="2425.5" y="1595.00">2.</tspan><tspan x="2425.5" y="1602.27">list</tspan><tspan x="2425.5" y="1609.55">dnswl</tspan><tspan x="2425.5" y="1616.82">org</tspan><tspan x="2425.5" y="1624.09">3 hops</tspan></text><text text-anchor="middle" filter="url(#t2)"><tspan x="2435.5" y="1587.73">15@</tspan><tspan x="2435.5" y="1595.00">3.</tspan><tspan x="2435.5" y="1602.27">list</tspan><tspan x="2435.5" y="1609.55">dnswl</tspan><tspan x="2435.5" y="1616.82">org</tspan><tspan x="2435.5" y="1624.09">6 hops</tspan></text><text text-anchor="middle" filter="url(#t2)"><tspan x="2445.5" y="1587.73">5@</tspan><tspan x="2445.5" y="1595.00">Y.</tspan><tspan x="2445.5" y="1602.27">list</tspan><tspan x="2445.5" y="1609.55">dnswl</tspan><tspan x="2445.5" y="1616.82">org</tspan><tspan x="2445.5" y="1624.09">4 hops</tspan></text><text text-anchor="middle" filter="url(#t2)"><tspan x="2455.5" y="1587.73">11@</tspan><tspan x="2455.5" y="1595.00">1.</tspan><tspan x="2455.5" y="1602.27">list</tspan><tspan x="2455.5" y="1609.55">dnswl</tspan><tspan x="2455.5" y="1616.82">org</tspan><tspan x="2455.5" y="1624.09">2 hops</tspan></text><text text-anchor="middle" filter="url(#t2)"><tspan x="2465.5" y="1587.73">2@</tspan><tspan x="2465.5" y="1595.00">1.</tspan><tspan x="2465.5" y="1602.27">list</tspan><tspan x="2465.5" y="1609.55">dnswl</tspan><tspan x="2465.5" y="1616.82">org</tspan><tspan x="2465.5" y="1624.09">2 hops</tspan></text><text text-anchor="middle" filter="url(#t2)"><tspan x="2474.5" y="1587.73">9@</tspan><tspan x="2474.5" y="1595.00">2.</tspan><tspan x="2474.5" y="1602.27">list</tspan><tspan x="2474.5" y="1609.55">dnswl</tspan><tspan x="2474.5" y="1616.82">org</tspan><tspan x="2474.5" y="1624.09">1 hop</tspan></text><text text-anchor="middle" filter="url(#t2)"><tspan x="2484.5" y="1587.73">6@</tspan><tspan x="2484.5" y="1595.00">1.</tspan><tspan x="2484.5" y="1602.27">list</tspan><tspan x="2484.5" y="1609.55">dnswl</tspan><tspan x="2484.5" y="1616.82">org</tspan><tspan x="2484.5" y="1624.09">2 hops</tspan></text><text text-anchor="middle" filter="url(#t2)"><tspan x="2494.5" y="1587.73">2@</tspan><tspan x="2494.5" y="1595.00">2.</tspan><tspan x="2494.5" y="1602.27">list</tspan><tspan x="2494.5" y="1609.55">dnswl</tspan><tspan x="2494.5" y="1616.82">org</tspan><tspan x="2494.5" y="1624.09">5 hops</tspan></text><text text-anchor="middle" filter="url(#t2)"><tspan x="2504.5" y="1587.73">1@</tspan><tspan x="2504.5" y="1595.00">2.</tspan><tspan x="2504.5" y="1602.27">list</tspan><tspan x="2504.5" y="1609.55">dnswl</tspan><tspan x="2504.5" y="1616.82">org</tspan><tspan x="2504.5" y="1624.09">5 hops</tspan></text><text text-anchor="middle" filter="url(#t2)"><tspan x="2514.5" y="1587.73">6@</tspan><tspan x="2514.5" y="1595.00">0.</tspan><tspan x="2514.5" y="1602.27">list</tspan><tspan x="2514.5" y="1609.55">dnswl</tspan><tspan x="2514.5" y="1616.82">org</tspan><tspan x="2514.5" y="1624.09">5 hops</tspan></text><text text-anchor="middle" filter="url(#t2)"><tspan x="2524.5" y="1587.73">9@</tspan><tspan x="2524.5" y="1595.00">pbl</tspan><tspan x="2524.5" y="1602.27">spamhaus</tspan><tspan x="2524.5" y="1609.55">org</tspan><tspan x="2524.5" y="1616.82">3 hops</tspan></text><text text-anchor="middle" filter="url(#t2)"><tspan x="2534.5" y="1587.73">9@</tspan><tspan x="2534.5" y="1595.00">3.</tspan><tspan x="2534.5" y="1602.27">list</tspan><tspan x="2534.5" y="1609.55">dnswl</tspan><tspan x="2534.5" y="1616.82">org</tspan><tspan x="2534.5" y="1624.09">origin</tspan></text><text text-anchor="middle" filter="url(#t2)"><tspan x="2543.5" y="1587.73">2@</tspan><tspan x="2543.5" y="1595.00">2.</tspan><tspan x="2543.5" y="1602.27">list</tspan><tspan x="2543.5" y="1609.55">dnswl</tspan><tspan x="2543.5" y="1616.82">org</tspan><tspan x="2543.5" y="1624.09">2 hops</tspan></text><text text-anchor="middle" filter="url(#t2)"><tspan x="2553.5" y="1587.73">2@</tspan><tspan x="2553.5" y="1595.00">dnsbl</tspan><tspan x="2553.5" y="1602.27">sorbs</tspan><tspan x="2553.5" y="1609.55">net</tspan><tspan x="2553.5" y="1616.82">7 hops</tspan></text><text text-anchor="middle" filter="url(#t2)"><tspan x="2563.5" y="1587.73">6@</tspan><tspan x="2563.5" y="1595.00">0.</tspan><tspan x="2563.5" y="1602.27">list</tspan><tspan x="2563.5" y="1609.55">dnswl</tspan><tspan x="2563.5" y="1616.82">org</tspan><tspan x="2563.5" y="1624.09">7 hops</tspan></text><text text-anchor="middle" filter="url(#t2)"><tspan x="2573.5" y="1587.73">6@</tspan><tspan x="2573.5" y="1595.00">Y.</tspan><tspan x="2573.5" y="1602.27">list</tspan><tspan x="2573.5" y="1609.55">dnswl</tspan><tspan x="2573.5" y="1616.82">org</tspan><tspan x="2573.5" y="1624.09">2 hops</tspan></text><text text-anchor="middle" filter="url(#t2)"><tspan x="2583.5" y="1587.73">14@</tspan><tspan x="2583.5" y="1595.00">0.</tspan><tspan x="2583.5" y="1602.27">list</tspan><tspan x="2583.5" y="1609.55">dnswl</tspan><tspan x="2583.5" y="1616.82">org</tspan><tspan x="2583.5" y="1624.09">1 hop</tspan></text><text text-anchor="middle" filter="url(#t2)"><tspan x="2593.5" y="1587.73">2@</tspan><tspan x="2593.5" y="1595.00">3.</tspan><tspan x="2593.5" y="1602.27">list</tspan><tspan x="2593.5" y="1609.55">dnswl</tspan><tspan x="2593.5" y="1616.82">org</tspan><tspan x="2593.5" y="1624.09">5 hops</tspan></text><text text-anchor="middle" filter="url(#t2)"><tspan x="2603.5" y="1587.73">9@</tspan><tspan x="2603.5" y="1595.00">ips</tspan><tspan x="2603.5" y="1602.27">backscatterer</tspan><tspan x="2603.5" y="1609.55">org</tspan><tspan x="2603.5" y="1616.82">2 hops</tspan></text><text text-anchor="middle" filter="url(#t2)"><tspan x="2612.5" y="1587.73">13@</tspan><tspan x="2612.5" y="1595.00">3.</tspan><tspan x="2612.5" y="1602.27">list</tspan><tspan x="2612.5" y="1609.55">dnswl</tspan><tspan x="2612.5" y="1616.82">org</tspan><tspan x="2612.5" y="1624.09">2 hops</tspan></text><text text-anchor="middle" filter="url(#t2)"><tspan x="2622.5" y="1587.73">2@</tspan><tspan x="2622.5" y="1595.00">2.</tspan><tspan x="2622.5" y="1602.27">list</tspan><tspan x="2622.5" y="1609.55">dnswl</tspan><tspan x="2622.5" y="1616.82">org</tspan><tspan x="2622.5" y="1624.09">2 hops</tspan></text><text text-anchor="middle" filter="url(#t2)"><tspan x="2632.5" y="1587.73">4@</tspan><tspan x="2632.5" y="1595.00">Y.</tspan><tspan x="2632.5" y="1602.27">list</tspan><tspan x="2632.5" y="1609.55">dnswl</tspan><tspan x="2632.5" y="1616.82">org</tspan><tspan x="2632.5" y="1624.09">3 hops</tspan></text><text text-anchor="middle" filter="url(#t2)"><tspan x="2642.5" y="1587.73">6@</tspan><tspan x="2642.5" y="1595.00">1.</tspan><tspan x="2642.5" y="1602.27">list</tspan><tspan x="2642.5" y="1609.55">dnswl</tspan><tspan x="2642.5" y="1616.82">org</tspan><tspan x="2642.5" y="1624.09">7 hops</tspan></text><text text-anchor="middle" filter="url(#t2)"><tspan x="2652.5" y="1587.73">3@</tspan><tspan x="2652.5" y="1595.00">2.</tspan><tspan x="2652.5" y="1602.27">list</tspan><tspan x="2652.5" y="1609.55">dnswl</tspan><tspan x="2652.5" y="1616.82">org</tspan><tspan x="2652.5" y="1624.09">4 hops</tspan></text><text text-anchor="middle" filter="url(#t2)"><tspan x="2662.5" y="1587.73">9@</tspan><tspan x="2662.5" y="1595.00">0.</tspan><tspan x="2662.5" y="1602.27">list</tspan><tspan x="2662.5" y="1609.55">dnswl</tspan><tspan x="2662.5" y="1616.82">org</tspan><tspan x="2662.5" y="1624.09">1 hop</tspan></text><text text-anchor="middle" filter="url(#t2)"><tspan x="2672.5" y="1587.73">1@</tspan><tspan x="2672.5" y="1595.00">Y.</tspan><tspan x="2672.5" y="1602.27">list</tspan><tspan x="2672.5" y="1609.55">dnswl</tspan><tspan x="2672.5" y="1616.82">org</tspan><tspan x="2672.5" y="1624.09">6 hops</tspan></text><text text-anchor="middle" filter="url(#t2)"><tspan x="2681.5" y="1587.73">9@</tspan><tspan x="2681.5" y="1595.00">1.</tspan><tspan x="2681.5" y="1602.27">list</tspan><tspan x="2681.5" y="1609.55">dnswl</tspan><tspan x="2681.5" y="1616.82">org</tspan><tspan x="2681.5" y="1624.09">1 hop</tspan></text><text text-anchor="middle" filter="url(#t2)"><tspan x="2691.5" y="1587.73">14@</tspan><tspan x="2691.5" y="1595.00">2.</tspan><tspan x="2691.5" y="1602.27">list</tspan><tspan x="2691.5" y="1609.55">dnswl</tspan><tspan x="2691.5" y="1616.82">org</tspan><tspan x="2691.5" y="1624.09">1 hop</tspan></text><text text-anchor="middle" filter="url(#t2)"><tspan x="2701.5" y="1587.73">9@</tspan><tspan x="2701.5" y="1595.00">3.</tspan><tspan x="2701.5" y="1602.27">list</tspan><tspan x="2701.5" y="1609.55">dnswl</tspan><tspan x="2701.5" y="1616.82">org</tspan><tspan x="2701.5" y="1624.09">5 hops</tspan></text><text text-anchor="middle" filter="url(#t2)"><tspan x="2711.5" y="1587.73">4@</tspan><tspan x="2711.5" y="1595.00">1.</tspan><tspan x="2711.5" y="1602.27">list</tspan><tspan x="2711.5" y="1609.55">dnswl</tspan><tspan x="2711.5" y="1616.82">org</tspan><tspan x="2711.5" y="1624.09">2 hops</tspan></text><text text-anchor="middle" filter="url(#t2)"><tspan x="2721.5" y="1587.73">14@</tspan><tspan x="2721.5" y="1595.00">1.</tspan><tspan x="2721.5" y="1602.27">list</tspan><tspan x="2721.5" y="1609.55">dnswl</tspan><tspan x="2721.5" y="1616.82">org</tspan><tspan x="2721.5" y="1624.09">3 hops</tspan></text><text text-anchor="middle" filter="url(#t2)"><tspan x="2731.5" y="1587.73">5@</tspan><tspan x="2731.5" y="1595.00">ips</tspan><tspan x="2731.5" y="1602.27">backscatterer</tspan><tspan x="2731.5" y="1609.55">org</tspan><tspan x="2731.5" y="1616.82">2 hops</tspan></text><text text-anchor="middle" filter="url(#t2)"><tspan x="2740.5" y="1587.73">10@</tspan><tspan x="2740.5" y="1595.00">Y.</tspan><tspan x="2740.5" y="1602.27">list</tspan><tspan x="2740.5" y="1609.55">dnswl</tspan><tspan x="2740.5" y="1616.82">org</tspan><tspan x="2740.5" y="1624.09">2 hops</tspan></text><text text-anchor="middle" filter="url(#t2)"><tspan x="2750.5" y="1587.73">4@</tspan><tspan x="2750.5" y="1595.00">3.</tspan><tspan x="2750.5" y="1602.27">list</tspan><tspan x="2750.5" y="1609.55">dnswl</tspan><tspan x="2750.5" y="1616.82">org</tspan><tspan x="2750.5" y="1624.09">3 hops</tspan></text><text text-anchor="middle" filter="url(#t2)"><tspan x="2760.5" y="1587.73">3@</tspan><tspan x="2760.5" y="1595.00">2.</tspan><tspan x="2760.5" y="1602.27">list</tspan><tspan x="2760.5" y="1609.55">dnswl</tspan><tspan x="2760.5" y="1616.82">org</tspan><tspan x="2760.5" y="1624.09">3 hops</tspan></text><text text-anchor="middle" filter="url(#t2)"><tspan x="2770.5" y="1587.73">5@</tspan><tspan x="2770.5" y="1595.00">2.</tspan><tspan x="2770.5" y="1602.27">list</tspan><tspan x="2770.5" y="1609.55">dnswl</tspan><tspan x="2770.5" y="1616.82">org</tspan><tspan x="2770.5" y="1624.09">7 hops</tspan></text><text text-anchor="middle" filter="url(#t2)"><tspan x="2780.5" y="1587.73">2@</tspan><tspan x="2780.5" y="1595.00">Y.</tspan><tspan x="2780.5" y="1602.27">list</tspan><tspan x="2780.5" y="1609.55">dnswl</tspan><tspan x="2780.5" y="1616.82">org</tspan><tspan x="2780.5" y="1624.09">4 hops</tspan></text><text text-anchor="middle" filter="url(#t2)"><tspan x="2790.5" y="1587.73">0@</tspan><tspan x="2790.5" y="1595.00">2.</tspan><tspan x="2790.5" y="1602.27">list</tspan><tspan x="2790.5" y="1609.55">dnswl</tspan><tspan x="2790.5" y="1616.82">org</tspan><tspan x="2790.5" y="1624.09">6 hops</tspan></text><text text-anchor="middle" filter="url(#t2)"><tspan x="2800.5" y="1587.73">2@</tspan><tspan x="2800.5" y="1595.00">zen</tspan><tspan x="2800.5" y="1602.27">spamhaus</tspan><tspan x="2800.5" y="1609.55">org</tspan><tspan x="2800.5" y="1616.82">5 hops</tspan></text><text text-anchor="middle" filter="url(#t2)"><tspan x="2809.5" y="1587.73">2@</tspan><tspan x="2809.5" y="1595.00">2.</tspan><tspan x="2809.5" y="1602.27">list</tspan><tspan x="2809.5" y="1609.55">dnswl</tspan><tspan x="2809.5" y="1616.82">org</tspan><tspan x="2809.5" y="1624.09">5 hops</tspan></text><text text-anchor="middle" filter="url(#t2)"><tspan x="2819.5" y="1587.73">6@</tspan><tspan x="2819.5" y="1595.00">Y.</tspan><tspan x="2819.5" y="1602.27">list</tspan><tspan x="2819.5" y="1609.55">dnswl</tspan><tspan x="2819.5" y="1616.82">org</tspan><tspan x="2819.5" y="1624.09">origin</tspan></text><text text-anchor="middle" filter="url(#t2)"><tspan x="2829.5" y="1587.73">2@</tspan><tspan x="2829.5" y="1595.00">2.</tspan><tspan x="2829.5" y="1602.27">list</tspan><tspan x="2829.5" y="1609.55">dnswl</tspan><tspan x="2829.5" y="1616.82">org</tspan><tspan x="2829.5" y="1624.09">origin</tspan></text><text text-anchor="middle" filter="url(#t2)"><tspan x="2839.5" y="1587.73">10@</tspan><tspan x="2839.5" y="1595.00">1.</tspan><tspan x="2839.5" y="1602.27">list</tspan><tspan x="2839.5" y="1609.55">dnswl</tspan><tspan x="2839.5" y="1616.82">org</tspan><tspan x="2839.5" y="1624.09">3 hops</tspan></text><text text-anchor="middle" filter="url(#t2)"><tspan x="2849.5" y="1587.73">0@</tspan><tspan x="2849.5" y="1595.00">3.</tspan><tspan x="2849.5" y="1602.27">list</tspan><tspan x="2849.5" y="1609.55">dnswl</tspan><tspan x="2849.5" y="1616.82">org</tspan><tspan x="2849.5" y="1624.09">2 hops</tspan></text><text text-anchor="middle" filter="url(#t2)"><tspan x="2859.5" y="1587.73">4@</tspan><tspan x="2859.5" y="1595.00">1.</tspan><tspan x="2859.5" y="1602.27">list</tspan><tspan x="2859.5" y="1609.55">dnswl</tspan><tspan x="2859.5" y="1616.82">org</tspan><tspan x="2859.5" y="1624.09">origin</tspan></text><text text-anchor="middle" filter="url(#t2)"><tspan x="2869.5" y="1587.73">14@</tspan><tspan x="2869.5" y="1595.00">xbl</tspan><tspan x="2869.5" y="1602.27">spamhaus</tspan><tspan x="2869.5" y="1609.55">org</tspan><tspan x="2869.5" y="1616.82">7 hops</tspan></text><text text-anchor="middle" filter="url(#t2)"><tspan x="2878.5" y="1587.73">2@</tspan><tspan x="2878.5" y="1595.00">Y.</tspan><tspan x="2878.5" y="1602.27">list</tspan><tspan x="2878.5" y="1609.55">dnswl</tspan><tspan x="2878.5" y="1616.82">org</tspan><tspan x="2878.5" y="1624.09">3 hops</tspan></text><text text-anchor="middle" filter="url(#t2)"><tspan x="2888.5" y="1587.73">2@</tspan><tspan x="2888.5" y="1595.00">Y.</tspan><tspan x="2888.5" y="1602.27">list</tspan><tspan x="2888.5" y="1609.55">dnswl</tspan><tspan x="2888.5" y="1616.82">org</tspan><tspan x="2888.5" y="1624.09">3 hops</tspan></text><text text-anchor="middle" filter="url(#t2)"><tspan x="2898.5" y="1587.73">14@</tspan><tspan x="2898.5" y="1595.00">0.</tspan><tspan x="2898.5" y="1602.27">list</tspan><tspan x="2898.5" y="1609.55">dnswl</tspan><tspan x="2898.5" y="1616.82">org</tspan><tspan x="2898.5" y="1624.09">3 hops</tspan></text><text text-anchor="middle" filter="url(#t2)"><tspan x="2908.5" y="1587.73">9@</tspan><tspan x="2908.5" y="1595.00">2.</tspan><tspan x="2908.5" y="1602.27">list</tspan><tspan x="2908.5" y="1609.55">dnswl</tspan><tspan x="2908.5" y="1616.82">org</tspan><tspan x="2908.5" y="1624.09">3 hops</tspan></text><text text-anchor="middle" filter="url(#t2)"><tspan x="2918.5" y="1587.73">5@</tspan><tspan x="2918.5" y="1595.00">2.</tspan><tspan x="2918.5" y="1602.27">list</tspan><tspan x="2918.5" y="1609.55">dnswl</tspan><tspan x="2918.5" y="1616.82">org</tspan><tspan x="2918.5" y="1624.09">1 hop</tspan></text><text text-anchor="middle" filter="url(#t2)"><tspan x="2928.5" y="1587.73">13@</tspan><tspan x="2928.5" y="1595.00">3.</tspan><tspan x="2928.5" y="1602.27">list</tspan><tspan x="2928.5" y="1609.55">dnswl</tspan><tspan x="2928.5" y="1616.82">org</tspan><tspan x="2928.5" y="1624.09">6 hops</tspan></text><text text-anchor="middle" filter="url(#t2)"><tspan x="2938.5" y="1587.73">9@</tspan><tspan x="2938.5" y="1595.00">1.</tspan><tspan x="2938.5" y="1602.27">list</tspan><tspan x="2938.5" y="1609.55">dnswl</tspan><tspan x="2938.5" y="1616.82">org</tspan><tspan x="2938.5" y="1624.09">1 hop</tspan></text><text text-anchor="middle" filter="url(#t2)"><tspan x="2947.5" y="1587.73">1@</tspan><tspan x="2947.5" y="1595.00">zen</tspan><tspan x="2947.5" y="1602.27">spamhaus</tspan><tspan x="2947.5" y="1609.55">org</tspan><tspan x="2947.5" y="1616.82">2 hops</tspan></text><text text-anchor="middle" filter="url(#t2)"><tspan x="2957.5" y="1587.73">3@</tspan><tspan x="2957.5" y="1595.00">xbl</tspan><tspan x="2957.5" y="1602.27">spamhaus</tspan><tspan x="2957.5" y="1609.55">org</tspan><tspan x="2957.5" y="1616.82">4 hops</tspan></text><text text-anchor="middle" filter="url(#t2)"><tspan x="2967.5" y="1587.73">5@</tspan><tspan x="2967.5" y="1595.00">1.</tspan><tspan x="2967.5" y="1602.27">list</tspan><tspan x="2967.5" y="1609.55">dnswl</tspan><tspan x="2967.5" y="1616.82">org</tspan><tspan x="2967.5" y="1624.09">2 hops</tspan></text><text text-anchor="middle" filter="url(#t2)"><tspan x="2977.5" y="1587.73">5@</tspan><tspan x="2977.5" y="1595.00">Y.</tspan><tspan x="2977.5" y="1602.27">list</tspan><tspan x="2977.5" y="1609.55">dnswl</tspan><tspan x="2977.5" y="1616.82">org</tspan><tspan x="2977.5" y="1624.09">7 hops</tspan></text><text text-anchor="middle" filter="url(#t2)"><tspan x="2987.5" y="1587.73">9@</tspan><tspan x="2987.5" y="1595.00">Y.</tspan><tspan x="2987.5" y="1602.27">list</tspan><tspan x="2987.5" y="1609.55">dnswl</tspan><tspan x="2987.5" y="1616.82">org</tspan><tspan x="2987.5" y="1624.09">origin</tspan></text><text text-anchor="middle" filter="url(#t2)"><tspan x="2997.5" y="1587.73">3@</tspan><tspan x="2997.5" y="1595.00">pbl</tspan><tspan x="2997.5" y="1602.27">spamhaus</tspan><tspan x="2997.5" y="1609.55">org</tspan><tspan x="2997.5" y="1616.82">4 hops</tspan></text><text text-anchor="middle" filter="url(#t2)"><tspan x="3007.5" y="1587.73">2@</tspan><tspan x="3007.5" y="1595.00">2.</tspan><tspan x="3007.5" y="1602.27">list</tspan><tspan x="3007.5" y="1609.55">dnswl</tspan><tspan x="3007.5" y="1616.82">org</tspan><tspan x="3007.5" y="1624.09">4 hops</tspan></text><text text-anchor="middle" filter="url(#t2)"><tspan x="3016.5" y="1587.73">2@</tspan><tspan x="3016.5" y="1595.00">1.</tspan><tspan x="3016.5" y="1602.27">list</tspan><tspan x="3016.5" y="1609.55">dnswl</tspan><tspan x="3016.5" y="1616.82">org</tspan><tspan x="3016.5" y="1624.09">1 hop</tspan></text><text text-anchor="middle" filter="url(#t2)"><tspan x="3026.5" y="1587.73">6@</tspan><tspan x="3026.5" y="1595.00">2.</tspan><tspan x="3026.5" y="1602.27">list</tspan><tspan x="3026.5" y="1609.55">dnswl</tspan><tspan x="3026.5" y="1616.82">org</tspan><tspan x="3026.5" y="1624.09">5 hops</tspan></text><text text-anchor="middle" filter="url(#t2)"><tspan x="3036.5" y="1587.73">2@</tspan><tspan x="3036.5" y="1595.00">2.</tspan><tspan x="3036.5" y="1602.27">list</tspan><tspan x="3036.5" y="1609.55">dnswl</tspan><tspan x="3036.5" y="1616.82">org</tspan><tspan x="3036.5" y="1624.09">origin</tspan></text><text text-anchor="middle" filter="url(#t2)"><tspan x="3046.5" y="1587.73">9@</tspan><tspan x="3046.5" y="1595.00">xbl</tspan><tspan x="3046.5" y="1602.27">spamhaus</tspan><tspan x="3046.5" y="1609.55">org</tspan><tspan x="3046.5" y="1616.82">1 hop</tspan></text><text text-anchor="middle" filter="url(#t2)"><tspan x="3056.5" y="1587.73">0@</tspan><tspan x="3056.5" y="1595.00">zombie</tspan><tspan x="3056.5" y="1602.27">dnsbl</tspan><tspan x="3056.5" y="1609.55">sorbs</tspan><tspan x="3056.5" y="1616.82">net</tspan><tspan x="3056.5" y="1624.09">2 hops</tspan></text><text text-anchor="middle" filter="url(#t2)"><tspan x="3066.5" y="1587.73">0@</tspan><tspan x="3066.5" y="1595.00">1.</tspan><tspan x="3066.5" y="1602.27">list</tspan><tspan x="3066.5" y="1609.55">dnswl</tspan><tspan x="3066.5" y="1616.82">org</tspan><tspan x="3066.5" y="1624.09">2 hops</tspan></text><text text-anchor="middle" filter="url(#t2)"><tspan x="3076.5" y="1587.73">9@</tspan><tspan x="3076.5" y="1595.00">2.</tspan><tspan x="3076.5" y="1602.27">list</tspan><tspan x="3076.5" y="1609.55">dnswl</tspan><tspan x="3076.5" y="1616.82">org</tspan><tspan x="3076.5" y="1624.09">5 hops</tspan></text><text text-anchor="middle" filter="url(#t2)"><tspan x="3085.5" y="1587.73">2@</tspan><tspan x="3085.5" y="1595.00">3.</tspan><tspan x="3085.5" y="1602.27">list</tspan><tspan x="3085.5" y="1609.55">dnswl</tspan><tspan x="3085.5" y="1616.82">org</tspan><tspan x="3085.5" y="1624.09">origin</tspan></text><text text-anchor="middle" filter="url(#t2)"><tspan x="3095.5" y="1587.73">2@</tspan><tspan x="3095.5" y="1595.00">1.</tspan><tspan x="3095.5" y="1602.27">list</tspan><tspan x="3095.5" y="1609.55">dnswl</tspan><tspan x="3095.5" y="1616.82">org</tspan><tspan x="3095.5" y="1624.09">7 hops</tspan></text><text text-anchor="middle" filter="url(#t2)"><tspan x="3105.5" y="1587.73">14@</tspan><tspan x="3105.5" y="1595.00">2.</tspan><tspan x="3105.5" y="1602.27">list</tspan><tspan x="3105.5" y="1609.55">dnswl</tspan><tspan x="3105.5" y="1616.82">org</tspan><tspan x="3105.5" y="1624.09">2 hops</tspan></text><text text-anchor="middle" filter="url(#t2)"><tspan x="3115.5" y="1587.73">9@</tspan><tspan x="3115.5" y="1595.00">2.</tspan><tspan x="3115.5" y="1602.27">list</tspan><tspan x="3115.5" y="1609.55">dnswl</tspan><tspan x="3115.5" y="1616.82">org</tspan><tspan x="3115.5" y="1624.09">7 hops</tspan></text><text text-anchor="middle" filter="url(#t2)"><tspan x="3125.5" y="1587.73">3@</tspan><tspan x="3125.5" y="1595.00">2.</tspan><tspan x="3125.5" y="1602.27">list</tspan><tspan x="3125.5" y="1609.55">dnswl</tspan><tspan x="3125.5" y="1616.82">org</tspan><tspan x="3125.5" y="1624.09">7 hops</tspan></text><text text-anchor="middle" filter="url(#t2)"><tspan x="3135.5" y="1587.73">9@</tspan><tspan x="3135.5" y="1595.00">2.</tspan><tspan x="3135.5" y="1602.27">list</tspan><tspan x="3135.5" y="1609.55">dnswl</tspan><tspan x="3135.5" y="1616.82">org</tspan><tspan x="3135.5" y="1624.09">6 hops</tspan></text><text text-anchor="middle" filter="url(#t2)"><tspan x="3145.5" y="1587.73">6@</tspan><tspan x="3145.5" y="1595.00">2.</tspan><tspan x="3145.5" y="1602.27">list</tspan><tspan x="3145.5" y="1609.55">dnswl</tspan><tspan x="3145.5" y="1616.82">org</tspan><tspan x="3145.5" y="1624.09">1 hop</tspan></text><text text-anchor="middle" filter="url(#t2)"><tspan x="3154.5" y="1587.73">3@</tspan><tspan x="3154.5" y="1595.00">0.</tspan><tspan x="3154.5" y="1602.27">list</tspan><tspan x="3154.5" y="1609.55">dnswl</tspan><tspan x="3154.5" y="1616.82">org</tspan><tspan x="3154.5" y="1624.09">origin</tspan></text><text text-anchor="middle" filter="url(#t2)"><tspan x="3164.5" y="1587.73">6@</tspan><tspan x="3164.5" y="1595.00">pbl</tspan><tspan x="3164.5" y="1602.27">spamhaus</tspan><tspan x="3164.5" y="1609.55">org</tspan><tspan x="3164.5" y="1616.82">1 hop</tspan></text><text text-anchor="middle" filter="url(#t2)"><tspan x="3174.5" y="1587.73">11@</tspan><tspan x="3174.5" y="1595.00">Y.</tspan><tspan x="3174.5" y="1602.27">list</tspan><tspan x="3174.5" y="1609.55">dnswl</tspan><tspan x="3174.5" y="1616.82">org</tspan><tspan x="3174.5" y="1624.09">6 hops</tspan></text></g>
</svg></body></html>
